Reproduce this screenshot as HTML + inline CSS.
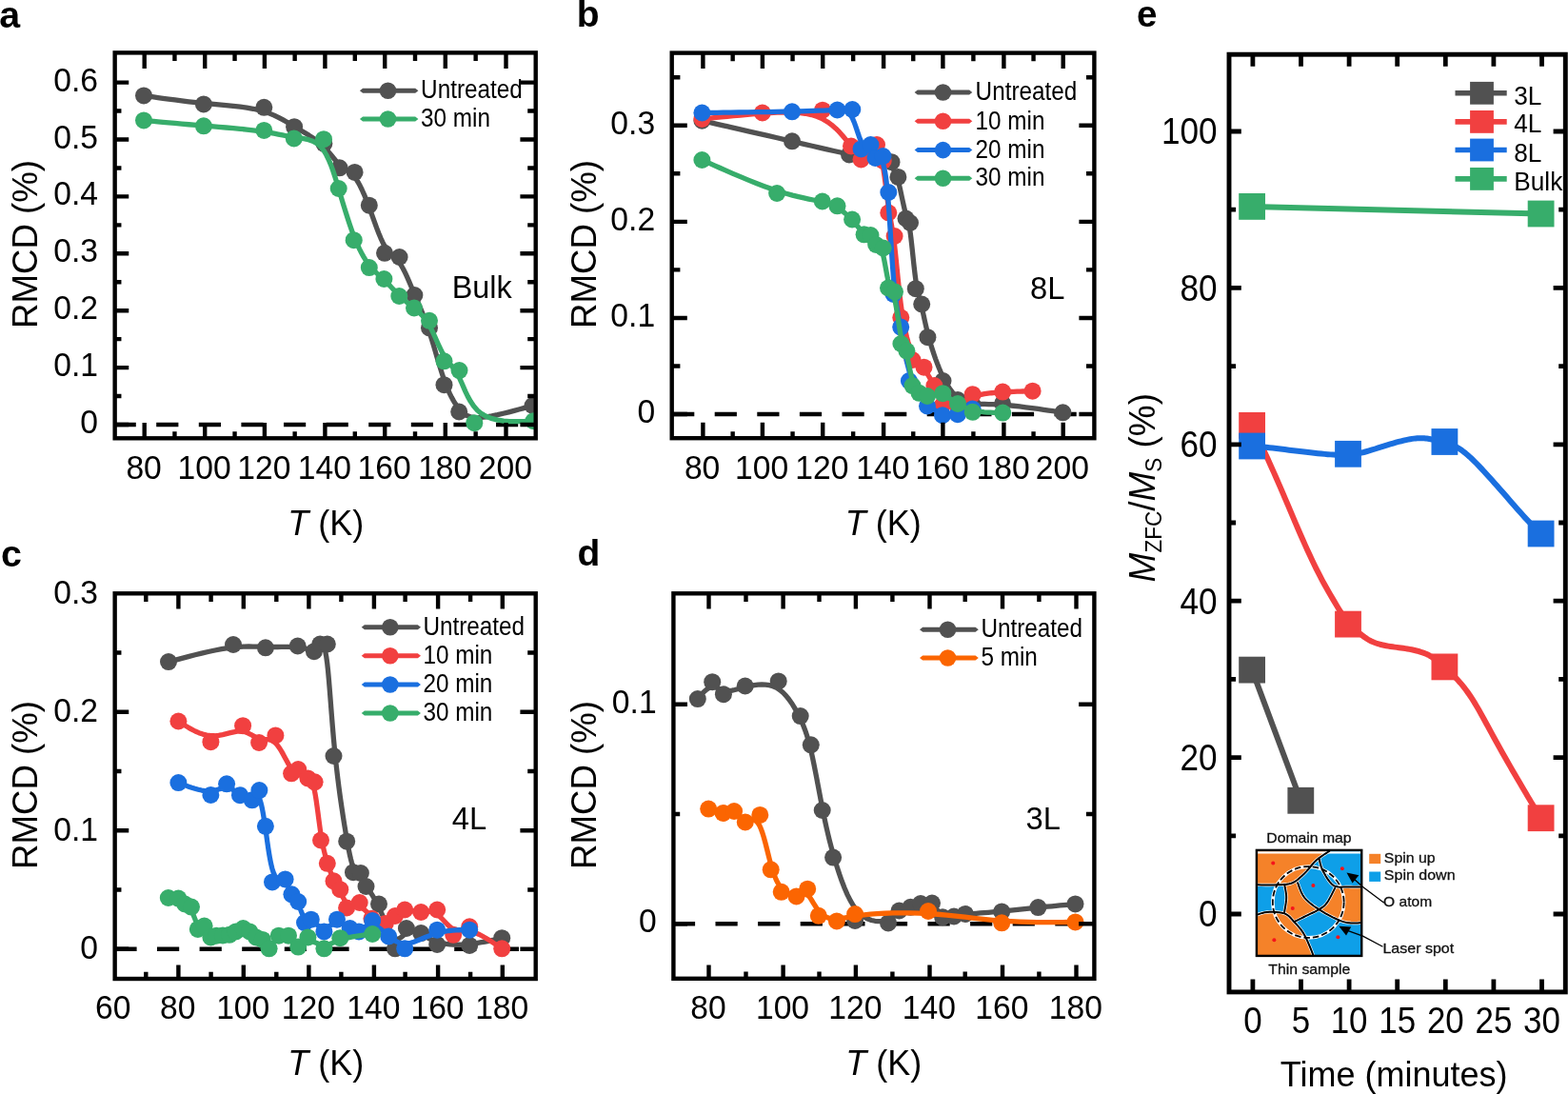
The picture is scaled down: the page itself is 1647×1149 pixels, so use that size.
<!DOCTYPE html>
<html lang="en">
<head>
<meta charset="utf-8">
<title>RMCD versus temperature</title>
<style>
html,body{margin:0;padding:0;background:#fff;}
body{width:1647px;height:1149px;overflow:hidden;}
svg{display:block;}
text{white-space:pre;}
</style>
</head>
<body>
<svg width="1647" height="1149" viewBox="0 0 1647 1149" role="img" aria-label="RMCD versus temperature for bulk, 8L, 4L and 3L samples, and MZFC/MS versus time" font-family='"Liberation Sans", Arial, Helvetica, sans-serif' fill="#000">
<g id="panel-a">
<path d="M119.6 446 H562.7" stroke="#000" stroke-width="4.4" stroke-dasharray="23.2 21.4" fill="none"/>
<clipPath id="cp1"><rect x="120.65" y="55.4" width="442.05" height="404.9"/></clipPath>
<g clip-path="url(#cp1)">
<path d="M151 100.4 L151.02 100.4 L151.16 100.42 L151.55 100.48 L152.31 100.59 L153.56 100.77 L155.42 101.03 L158.02 101.4 L161.48 101.9 L165.89 102.53 L171.15 103.27 L177.15 104.09 L183.77 104.97 L190.89 105.88 L198.37 106.78 L206.11 107.65 L213.98 108.47 L221.87 109.21 L229.7 109.9 L237.42 110.6 L244.95 111.34 L252.24 112.17 L259.23 113.13 L265.85 114.27 L272.03 115.63 L277.75 117.25 L283.03 119.09 L287.93 121.12 L292.53 123.3 L296.88 125.59 L301.03 127.95 L305.06 130.34 L309.02 132.73 L312.95 135.09 L316.85 137.42 L320.68 139.76 L324.43 142.11 L328.04 144.5 L331.51 146.95 L334.8 149.48 L337.88 152.12 L340.74 154.86 L343.39 157.68 L345.86 160.5 L348.18 163.28 L350.38 165.96 L352.5 168.48 L354.55 170.78 L356.57 172.82 L358.58 174.55 L360.58 176.06 L362.58 177.44 L364.58 178.79 L366.57 180.22 L368.54 181.82 L370.51 183.69 L372.47 185.93 L374.41 188.63 L376.35 191.76 L378.28 195.31 L380.2 199.25 L382.13 203.54 L384.07 208.15 L386.01 213.07 L387.97 218.25 L389.94 223.66 L391.92 229.18 L393.91 234.71 L395.91 240.11 L397.91 245.28 L399.91 250.09 L401.91 254.42 L403.9 258.15 L405.88 261.21 L407.86 263.72 L409.83 265.82 L411.79 267.69 L413.75 269.48 L415.71 271.35 L417.67 273.46 L419.63 275.97 L421.6 279 L423.56 282.5 L425.53 286.41 L427.5 290.63 L429.47 295.09 L431.44 299.7 L433.4 304.39 L435.37 309.07 L437.33 313.68 L439.29 318.27 L441.24 322.9 L443.19 327.61 L445.14 332.48 L447.09 337.57 L449.04 342.93 L450.98 348.63 L452.93 354.7 L454.87 361.05 L456.81 367.58 L458.75 374.17 L460.69 380.72 L462.64 387.1 L464.58 393.22 L466.53 398.95 L468.48 404.21 L470.44 409.01 L472.4 413.37 L474.36 417.32 L476.33 420.89 L478.3 424.09 L480.28 426.96 L482.27 429.53 L484.27 431.82 L486.37 433.8 L488.65 435.47 L491.2 436.81 L494.1 437.79 L497.45 438.4 L501.32 438.61 L505.82 438.42 L510.97 437.81 L516.61 436.86 L522.55 435.66 L528.56 434.28 L534.46 432.83 L540.01 431.37 L545.03 430.01 L549.3 428.83 L552.67 427.9 L555.2 427.2 L557.01 426.69 L558.23 426.35 L558.96 426.15 L559.34 426.04 L559.48 426.01 L559.5 426" fill="none" stroke="#515151" stroke-width="5.3" stroke-linejoin="round" stroke-linecap="round"/>
<g fill="#515151"><circle cx="151" cy="100.4" r="9"/><circle cx="213.9" cy="109.4" r="9"/><circle cx="277.3" cy="112.8" r="9"/><circle cx="309.1" cy="133.2" r="9"/><circle cx="340.4" cy="150.8" r="9"/><circle cx="356.6" cy="176.3" r="9"/><circle cx="372.6" cy="180.9" r="9"/><circle cx="387.8" cy="215.7" r="9"/><circle cx="404" cy="265.8" r="9"/><circle cx="419.6" cy="270" r="9"/><circle cx="435.4" cy="310" r="9"/><circle cx="451" cy="344.4" r="9"/><circle cx="466.5" cy="404.2" r="9"/><circle cx="482.2" cy="432.5" r="9"/><circle cx="559.5" cy="426" r="9"/></g>
<path d="M151 126.4 L151.02 126.4 L151.16 126.42 L151.55 126.45 L152.31 126.52 L153.56 126.64 L155.42 126.81 L158.02 127.06 L161.48 127.38 L165.89 127.8 L171.15 128.29 L177.15 128.84 L183.77 129.45 L190.89 130.09 L198.37 130.75 L206.11 131.42 L213.98 132.08 L221.87 132.73 L229.7 133.37 L237.41 134.01 L244.95 134.65 L252.23 135.32 L259.21 136.02 L265.81 136.76 L271.98 137.55 L277.68 138.4 L282.93 139.28 L287.81 140.18 L292.38 141.07 L296.69 141.93 L300.82 142.74 L304.82 143.48 L308.75 144.12 L312.66 144.66 L316.54 145.19 L320.35 145.83 L324.07 146.7 L327.67 147.91 L331.11 149.57 L334.37 151.79 L337.42 154.7 L340.23 158.37 L342.84 162.74 L345.26 167.72 L347.53 173.21 L349.69 179.12 L351.76 185.35 L353.77 191.81 L355.75 198.4 L357.73 205.03 L359.72 211.65 L361.71 218.2 L363.71 224.62 L365.71 230.87 L367.71 236.88 L369.71 242.6 L371.72 247.98 L373.72 252.98 L375.73 257.6 L377.74 261.86 L379.74 265.77 L381.74 269.35 L383.74 272.61 L385.73 275.58 L387.72 278.27 L389.69 280.69 L391.67 282.9 L393.63 284.92 L395.6 286.82 L397.56 288.64 L399.52 290.41 L401.48 292.19 L403.45 294.02 L405.42 295.93 L407.4 297.91 L409.37 299.95 L411.35 302.01 L413.33 304.08 L415.31 306.13 L417.29 308.14 L419.27 310.08 L421.24 311.95 L423.21 313.74 L425.18 315.47 L427.15 317.15 L429.12 318.8 L431.1 320.42 L433.07 322.03 L435.05 323.63 L437.03 325.26 L439.02 326.96 L441.01 328.78 L443 330.78 L444.98 333.01 L446.97 335.53 L448.94 338.4 L450.92 341.67 L452.88 345.36 L454.84 349.39 L456.8 353.64 L458.75 357.98 L460.7 362.29 L462.66 366.45 L464.62 370.35 L466.58 373.85 L468.56 376.89 L470.53 379.57 L472.52 382.04 L474.51 384.46 L476.5 386.98 L478.49 389.75 L480.48 392.92 L482.47 396.65 L484.47 401.03 L486.56 405.91 L488.82 411.1 L491.36 416.4 L494.26 421.61 L497.6 426.53 L501.49 430.95 L506.02 434.68 L511.21 437.58 L516.92 439.69 L522.93 441.14 L529.02 442.05 L534.99 442.53 L540.63 442.69 L545.72 442.65 L550.05 442.53 L553.47 442.42 L556.03 442.34 L557.87 442.28 L559.11 442.24 L559.85 442.22 L560.24 442.21 L560.38 442.2 L560.4 442.2" fill="none" stroke="#37AD6B" stroke-width="5.3" stroke-linejoin="round" stroke-linecap="round"/>
<g fill="#37AD6B"><circle cx="151" cy="126.4" r="9"/><circle cx="213.9" cy="132.3" r="9"/><circle cx="277.3" cy="136.9" r="9"/><circle cx="308.8" cy="145.4" r="9"/><circle cx="340" cy="146.2" r="9"/><circle cx="355.7" cy="198" r="9"/><circle cx="371.7" cy="252.2" r="9"/><circle cx="387.8" cy="281.1" r="9"/><circle cx="403.4" cy="293" r="9"/><circle cx="419.3" cy="311" r="9"/><circle cx="435" cy="323.5" r="9"/><circle cx="451" cy="336.8" r="9"/><circle cx="466.5" cy="379.3" r="9"/><circle cx="482.5" cy="389.1" r="9"/><circle cx="498.3" cy="444.2" r="9"/><circle cx="560.4" cy="442.2" r="9"/></g>
</g>
<rect x="120.65" y="55.4" width="442.05" height="404.9" fill="none" stroke="#000" stroke-width="4.4"/>
<path d="M151.7 55.4 v16.5 M151.7 460.3 v-16.4 M215.2 55.4 v16.5 M215.2 460.3 v-16.4 M277.9 55.4 v16.5 M277.9 460.3 v-16.4 M341.4 55.4 v16.5 M341.4 460.3 v-16.4 M404.2 55.4 v16.5 M404.2 460.3 v-16.4 M467.8 55.4 v16.5 M467.8 460.3 v-16.4 M531.5 55.4 v16.5 M531.5 460.3 v-16.4 M183.45 55.4 v8.7 M183.45 460.3 v-7 M246.55 55.4 v8.7 M246.55 460.3 v-7 M309.65 55.4 v8.7 M309.65 460.3 v-7 M372.8 55.4 v8.7 M372.8 460.3 v-7 M436 55.4 v8.7 M436 460.3 v-7 M499.65 55.4 v8.7 M499.65 460.3 v-7 M120.65 446 h14.6 M562.7 446 h-16.3 M120.65 386.1 h14.6 M562.7 386.1 h-16.3 M120.65 326.2 h14.6 M562.7 326.2 h-16.3 M120.65 266.3 h14.6 M562.7 266.3 h-16.3 M120.65 206.4 h14.6 M562.7 206.4 h-16.3 M120.65 146.5 h14.6 M562.7 146.5 h-16.3 M120.65 86.6 h14.6 M562.7 86.6 h-16.3 M120.65 416.05 h6.8 M562.7 416.05 h-8.5 M120.65 356.15 h6.8 M562.7 356.15 h-8.5 M120.65 296.25 h6.8 M562.7 296.25 h-8.5 M120.65 236.35 h6.8 M562.7 236.35 h-8.5 M120.65 176.45 h6.8 M562.7 176.45 h-8.5 M120.65 116.55 h6.8 M562.7 116.55 h-8.5" fill="none" stroke="#000" stroke-width="4.4"/>
<text transform="translate(151.1 502.6) scale(0.94 1)" font-size="35.8" text-anchor="middle">80</text>
<text transform="translate(214.6 502.6) scale(0.94 1)" font-size="35.8" text-anchor="middle">100</text>
<text transform="translate(277.3 502.6) scale(0.94 1)" font-size="35.8" text-anchor="middle">120</text>
<text transform="translate(340.8 502.6) scale(0.94 1)" font-size="35.8" text-anchor="middle">140</text>
<text transform="translate(403.6 502.6) scale(0.94 1)" font-size="35.8" text-anchor="middle">160</text>
<text transform="translate(467.2 502.6) scale(0.94 1)" font-size="35.8" text-anchor="middle">180</text>
<text transform="translate(530.9 502.6) scale(0.94 1)" font-size="35.8" text-anchor="middle">200</text>
<text transform="translate(103 455) scale(0.94 1)" font-size="35.8" text-anchor="end">0</text>
<text transform="translate(103 395.1) scale(0.94 1)" font-size="35.8" text-anchor="end">0.1</text>
<text transform="translate(103 335.2) scale(0.94 1)" font-size="35.8" text-anchor="end">0.2</text>
<text transform="translate(103 275.3) scale(0.94 1)" font-size="35.8" text-anchor="end">0.3</text>
<text transform="translate(103 215.4) scale(0.94 1)" font-size="35.8" text-anchor="end">0.4</text>
<text transform="translate(103 155.5) scale(0.94 1)" font-size="35.8" text-anchor="end">0.5</text>
<text transform="translate(103 95.6) scale(0.94 1)" font-size="35.8" text-anchor="end">0.6</text>
<text transform="translate(342.2 561.7) scale(0.962 1)" font-size="37.4" text-anchor="middle"><tspan font-style="italic">T</tspan> (K)</text>
<text transform="translate(39.4 256.5) rotate(-90) scale(0.97 1)" font-size="37.8" text-anchor="middle">RMCD (%)</text>
<path d="M377.9 95.3 L381.1 92.8 H436.2 L439.4 95.3 L436.2 97.8 H381.1 Z" fill="#515151"/>
<circle cx="407.5" cy="95.3" r="8.8" fill="#515151"/>
<text transform="translate(442.1 103.2) scale(0.89 1)" font-size="27.3" text-anchor="start">Untreated</text>
<path d="M377.9 125 L381.1 122.5 H436.2 L439.4 125 L436.2 127.5 H381.1 Z" fill="#37AD6B"/>
<circle cx="407.5" cy="125" r="8.8" fill="#37AD6B"/>
<text transform="translate(442.1 132.9) scale(0.89 1)" font-size="27.3" text-anchor="start">30 min</text>
<text x="474.7" y="312.6" font-size="32.4" text-anchor="start">Bulk</text>
<text x="-0.8" y="28.8" font-size="39.3" text-anchor="start" font-weight="bold">a</text>
</g>
<g id="panel-b">
<path d="M706.1 435 H1149.4" stroke="#000" stroke-width="4.4" stroke-dasharray="23.2 21.4" fill="none"/>
<clipPath id="cp2"><rect x="705.7" y="55.6" width="443.7" height="404.6"/></clipPath>
<g clip-path="url(#cp2)">
<path d="M737.4 126.7 L737.43 126.71 L737.65 126.76 L738.23 126.89 L739.37 127.15 L741.25 127.58 L744.05 128.22 L747.96 129.11 L753.17 130.3 L759.78 131.81 L767.61 133.6 L776.42 135.61 L785.95 137.8 L795.95 140.09 L806.16 142.44 L816.34 144.78 L826.23 147.07 L835.63 149.25 L844.53 151.31 L852.96 153.27 L860.96 155.11 L868.57 156.85 L875.82 158.47 L882.76 160 L889.42 161.42 L895.82 162.74 L901.94 163.99 L907.73 165.19 L913.14 166.38 L918.15 167.58 L922.69 168.82 L926.73 170.13 L930.23 171.53 L933.16 173.06 L935.58 174.76 L937.57 176.66 L939.19 178.8 L940.53 181.22 L941.66 183.96 L942.66 187.06 L943.6 190.55 L944.55 194.45 L945.5 198.66 L946.45 203.04 L947.4 207.47 L948.33 211.8 L949.22 215.92 L950.09 219.69 L950.9 222.98 L951.66 225.72 L952.38 228.04 L953.05 230.17 L953.7 232.28 L954.33 234.6 L954.96 237.32 L955.58 240.65 L956.22 244.78 L956.87 249.86 L957.54 255.71 L958.23 262.12 L958.94 268.85 L959.66 275.67 L960.4 282.35 L961.14 288.66 L961.9 294.38 L962.67 299.34 L963.44 303.6 L964.22 307.32 L965.01 310.63 L965.8 313.67 L966.59 316.58 L967.38 319.5 L968.17 322.57 L968.96 325.9 L969.76 329.5 L970.6 333.36 L971.5 337.47 L972.48 341.8 L973.55 346.36 L974.73 351.12 L976.05 356.07 L977.52 361.18 L979.12 366.39 L980.84 371.64 L982.64 376.84 L984.53 381.93 L986.46 386.83 L988.42 391.46 L990.4 395.77 L992.37 399.68 L994.33 403.21 L996.29 406.37 L998.24 409.2 L1000.19 411.7 L1002.13 413.91 L1004.07 415.84 L1006.02 417.52 L1007.97 418.96 L1009.95 420.19 L1011.99 421.22 L1014.13 422.06 L1016.4 422.75 L1018.82 423.28 L1021.43 423.69 L1024.25 423.98 L1027.32 424.18 L1030.68 424.32 L1034.34 424.43 L1038.34 424.54 L1042.72 424.69 L1047.5 424.9 L1052.72 425.21 L1058.4 425.65 L1064.54 426.24 L1071 426.96 L1077.58 427.77 L1084.09 428.62 L1090.37 429.48 L1096.21 430.32 L1101.43 431.08 L1105.85 431.73 L1109.33 432.25 L1111.95 432.64 L1113.82 432.92 L1115.08 433.1 L1115.84 433.22 L1116.24 433.28 L1116.38 433.3 L1116.4 433.3" fill="none" stroke="#515151" stroke-width="5.3" stroke-linejoin="round" stroke-linecap="round"/>
<g fill="#515151"><circle cx="737.4" cy="126.7" r="9"/><circle cx="832" cy="148.3" r="9"/><circle cx="892" cy="162.5" r="9"/><circle cx="936.5" cy="170.2" r="9"/><circle cx="943.4" cy="185.9" r="9"/><circle cx="951.5" cy="229.5" r="9"/><circle cx="956" cy="234" r="9"/><circle cx="961.8" cy="303.2" r="9"/><circle cx="968.2" cy="319.5" r="9"/><circle cx="974.4" cy="354.2" r="9"/><circle cx="990.5" cy="400.1" r="9"/><circle cx="1006" cy="420" r="9"/><circle cx="1021.6" cy="425" r="9"/><circle cx="1053.1" cy="423.9" r="9"/><circle cx="1116.4" cy="433.3" r="9"/></g>
<path d="M737.4 125 L737.42 125 L737.57 124.98 L737.96 124.94 L738.72 124.86 L739.98 124.74 L741.86 124.54 L744.48 124.27 L747.97 123.92 L752.4 123.46 L757.71 122.93 L763.75 122.33 L770.42 121.69 L777.57 121.03 L785.1 120.37 L792.87 119.72 L800.77 119.12 L808.67 118.58 L816.5 118.17 L824.2 117.96 L831.7 118.02 L838.95 118.43 L845.87 119.26 L852.39 120.58 L858.47 122.47 L864.04 124.95 L869.11 127.94 L873.73 131.32 L877.9 134.95 L881.66 138.71 L885.04 142.48 L888.06 146.13 L890.75 149.53 L893.14 152.58 L895.27 155.25 L897.2 157.52 L898.97 159.39 L900.64 160.84 L902.25 161.86 L903.85 162.45 L905.5 162.58 L907.23 162.28 L909.02 161.64 L910.85 160.77 L912.67 159.81 L914.47 158.88 L916.2 158.08 L917.85 157.56 L919.37 157.42 L920.74 157.77 L921.98 158.63 L923.1 160.03 L924.12 161.96 L925.06 164.44 L925.92 167.47 L926.74 171.07 L927.52 175.25 L928.28 179.99 L929.02 185.18 L929.76 190.7 L930.49 196.41 L931.22 202.17 L931.95 207.86 L932.68 213.35 L933.42 218.5 L934.17 223.23 L934.93 227.67 L935.69 232 L936.47 236.4 L937.26 241.03 L938.05 246.09 L938.86 251.74 L939.67 258.17 L940.48 265.49 L941.32 273.56 L942.18 282.18 L943.07 291.17 L944.01 300.31 L945.01 309.4 L946.08 318.25 L947.22 326.67 L948.44 334.47 L949.74 341.65 L951.1 348.2 L952.51 354.13 L953.97 359.45 L955.45 364.18 L956.95 368.32 L958.47 371.87 L959.98 374.86 L961.48 377.37 L962.98 379.49 L964.47 381.33 L965.95 382.97 L967.42 384.5 L968.88 386.03 L970.32 387.65 L971.74 389.43 L973.14 391.37 L974.53 393.46 L975.89 395.65 L977.22 397.95 L978.53 400.32 L979.81 402.73 L981.07 405.18 L982.29 407.64 L983.5 410.06 L984.72 412.43 L985.95 414.7 L987.22 416.83 L988.55 418.8 L989.95 420.57 L991.43 422.1 L993.02 423.36 L994.7 424.36 L996.46 425.09 L998.29 425.56 L1000.17 425.77 L1002.09 425.72 L1004.04 425.42 L1006 424.87 L1007.97 424.08 L1009.97 423.09 L1012.03 421.96 L1014.18 420.74 L1016.46 419.48 L1018.89 418.24 L1021.5 417.05 L1024.33 415.98 L1027.4 415.07 L1030.69 414.31 L1034.15 413.68 L1037.78 413.16 L1041.52 412.74 L1045.36 412.4 L1049.26 412.12 L1053.18 411.88 L1057.1 411.68 L1060.96 411.5 L1064.69 411.34 L1068.24 411.2 L1071.55 411.09 L1074.54 410.99 L1077.17 410.91 L1079.37 410.85 L1081.09 410.8 L1082.39 410.76 L1083.32 410.74 L1083.95 410.72 L1084.32 410.71 L1084.52 410.7 L1084.59 410.7 L1084.6 410.7" fill="none" stroke="#F14040" stroke-width="5.3" stroke-linejoin="round" stroke-linecap="round"/>
<g fill="#F14040"><circle cx="737.4" cy="125" r="9"/><circle cx="800.8" cy="118.5" r="9"/><circle cx="864" cy="115.7" r="9"/><circle cx="894" cy="153.5" r="9"/><circle cx="904.5" cy="167.5" r="9"/><circle cx="921" cy="152" r="9"/><circle cx="927.7" cy="169" r="9"/><circle cx="933.3" cy="223.5" r="9"/><circle cx="939.6" cy="248" r="9"/><circle cx="946.3" cy="333.5" r="9"/><circle cx="958.5" cy="378" r="9"/><circle cx="970.5" cy="385.7" r="9"/><circle cx="981.4" cy="405.1" r="9"/><circle cx="990.3" cy="425" r="9"/><circle cx="1006" cy="427.5" r="9"/><circle cx="1021.7" cy="414.2" r="9"/><circle cx="1053.2" cy="411.6" r="9"/><circle cx="1084.6" cy="410.7" r="9"/></g>
<path d="M737.4 118.5 L737.43 118.5 L737.65 118.5 L738.23 118.49 L739.37 118.47 L741.25 118.45 L744.05 118.42 L747.96 118.37 L753.17 118.3 L759.77 118.22 L767.58 118.11 L776.31 118 L785.69 117.86 L795.44 117.72 L805.28 117.55 L814.95 117.38 L824.15 117.2 L832.67 117.01 L840.48 116.81 L847.62 116.61 L854.11 116.41 L859.98 116.22 L865.27 116.04 L870.01 115.87 L874.22 115.72 L877.93 115.6 L881.2 115.58 L884.08 115.73 L886.6 116.15 L888.83 116.9 L890.8 118.07 L892.58 119.74 L894.2 121.98 L895.71 124.84 L897.14 128.18 L898.49 131.83 L899.78 135.62 L901.02 139.38 L902.24 142.94 L903.44 146.12 L904.63 148.77 L905.84 150.74 L907.04 152.13 L908.24 153.05 L909.41 153.63 L910.55 154 L911.65 154.27 L912.69 154.59 L913.67 155.07 L914.57 155.8 L915.41 156.75 L916.2 157.86 L916.96 159.05 L917.7 160.26 L918.45 161.42 L919.21 162.47 L920 163.33 L920.83 163.98 L921.71 164.48 L922.6 164.95 L923.52 165.5 L924.44 166.24 L925.35 167.27 L926.26 168.71 L927.13 170.67 L927.98 173.24 L928.79 176.49 L929.58 180.48 L930.34 185.27 L931.08 190.91 L931.8 197.46 L932.51 204.97 L933.2 213.5 L933.88 223.06 L934.56 233.41 L935.25 244.3 L935.94 255.43 L936.65 266.54 L937.37 277.34 L938.13 287.56 L938.92 296.93 L939.74 305.25 L940.6 312.62 L941.5 319.22 L942.42 325.25 L943.38 330.88 L944.35 336.29 L945.35 341.69 L946.37 347.23 L947.4 353.07 L948.47 359.15 L949.59 365.37 L950.79 371.63 L952.07 377.82 L953.46 383.85 L954.97 389.62 L956.63 395.02 L958.45 399.97 L960.4 404.48 L962.46 408.57 L964.6 412.28 L966.8 415.62 L969.03 418.62 L971.27 421.3 L973.48 423.7 L975.65 425.83 L977.78 427.72 L979.87 429.36 L981.93 430.78 L983.97 431.98 L985.98 432.98 L987.99 433.79 L989.98 434.42 L991.98 434.88 L993.97 435.19 L995.96 435.35 L997.95 435.38 L999.93 435.29 L1001.92 435.09 L1003.9 434.8 L1005.88 434.42 L1007.86 433.96 L1009.8 433.46 L1011.68 432.92 L1013.47 432.37 L1015.13 431.83 L1016.64 431.31 L1017.96 430.85 L1019.07 430.45 L1019.94 430.14 L1020.59 429.9 L1021.06 429.73 L1021.37 429.62 L1021.56 429.55 L1021.66 429.51 L1021.69 429.5 L1021.7 429.5" fill="none" stroke="#1A6FDF" stroke-width="5.3" stroke-linejoin="round" stroke-linecap="round"/>
<g fill="#1A6FDF"><circle cx="737.4" cy="118.5" r="9"/><circle cx="832" cy="117.3" r="9"/><circle cx="879.5" cy="115.5" r="9"/><circle cx="895.3" cy="115" r="9"/><circle cx="904.5" cy="156.4" r="9"/><circle cx="914.5" cy="152" r="9"/><circle cx="919.5" cy="166" r="9"/><circle cx="927.5" cy="164" r="9"/><circle cx="933.3" cy="202" r="9"/><circle cx="938.5" cy="309" r="9"/><circle cx="946.2" cy="343.6" r="9"/><circle cx="954.9" cy="400" r="9"/><circle cx="974" cy="426.5" r="9"/><circle cx="990" cy="436.2" r="9"/><circle cx="1005.9" cy="435.2" r="9"/><circle cx="1021.7" cy="429.5" r="9"/></g>
<path d="M737.4 168 L737.43 168.01 L737.6 168.09 L738.09 168.31 L739.04 168.73 L740.6 169.42 L742.93 170.46 L746.19 171.91 L750.52 173.83 L756.01 176.27 L762.53 179.14 L769.84 182.32 L777.74 185.68 L786.02 189.1 L794.45 192.48 L802.83 195.68 L810.93 198.58 L818.59 201.1 L825.76 203.25 L832.44 205.08 L838.64 206.62 L844.34 207.93 L849.54 209.05 L854.25 210.02 L858.47 210.88 L862.19 211.69 L865.47 212.46 L868.38 213.23 L870.98 214.02 L873.33 214.85 L875.48 215.75 L877.52 216.75 L879.48 217.87 L881.44 219.13 L883.38 220.52 L885.32 222.02 L887.23 223.63 L889.12 225.32 L890.98 227.09 L892.8 228.91 L894.58 230.77 L896.31 232.65 L897.99 234.52 L899.61 236.36 L901.17 238.12 L902.66 239.77 L904.07 241.29 L905.41 242.64 L906.67 243.78 L907.84 244.7 L908.93 245.44 L909.95 246.03 L910.91 246.53 L911.81 246.98 L912.68 247.44 L913.5 247.95 L914.3 248.55 L915.08 249.29 L915.85 250.14 L916.6 251.07 L917.36 252.06 L918.13 253.07 L918.9 254.07 L919.69 255.03 L920.5 255.92 L921.34 256.72 L922.2 257.52 L923.07 258.39 L923.94 259.42 L924.81 260.7 L925.67 262.32 L926.52 264.36 L927.33 266.92 L928.12 270.04 L928.87 273.61 L929.61 277.48 L930.34 281.51 L931.06 285.54 L931.79 289.43 L932.53 293.02 L933.28 296.17 L934.06 298.77 L934.87 300.96 L935.69 302.9 L936.52 304.76 L937.37 306.72 L938.21 308.95 L939.06 311.63 L939.9 314.92 L940.73 318.94 L941.56 323.55 L942.37 328.58 L943.18 333.83 L943.98 339.1 L944.77 344.21 L945.56 348.97 L946.33 353.18 L947.11 356.72 L947.87 359.68 L948.63 362.2 L949.39 364.43 L950.15 366.51 L950.91 368.61 L951.66 370.86 L952.42 373.42 L953.17 376.38 L953.93 379.68 L954.7 383.21 L955.47 386.85 L956.25 390.49 L957.04 394.03 L957.84 397.33 L958.65 400.3 L959.48 402.85 L960.32 404.99 L961.17 406.78 L962.05 408.26 L962.94 409.48 L963.86 410.48 L964.79 411.33 L965.75 412.05 L966.73 412.7 L967.75 413.27 L968.82 413.76 L969.94 414.18 L971.14 414.52 L972.43 414.77 L973.81 414.93 L975.3 415 L976.91 414.98 L978.62 414.91 L980.42 414.83 L982.3 414.76 L984.23 414.75 L986.2 414.84 L988.2 415.07 L990.2 415.47 L992.2 416.07 L994.18 416.85 L996.16 417.79 L998.14 418.84 L1000.11 419.99 L1002.07 421.19 L1004.04 422.43 L1006 423.67 L1007.97 424.87 L1009.97 426.04 L1012.03 427.15 L1014.18 428.19 L1016.46 429.16 L1018.89 430.03 L1021.51 430.81 L1024.35 431.47 L1027.42 432.01 L1030.64 432.44 L1033.92 432.77 L1037.17 433.02 L1040.3 433.2 L1043.22 433.32 L1045.83 433.41 L1048.03 433.47 L1049.77 433.51 L1051.08 433.54 L1052.01 433.57 L1052.64 433.58 L1053.02 433.59 L1053.22 433.6 L1053.29 433.6 L1053.3 433.6" fill="none" stroke="#37AD6B" stroke-width="5.3" stroke-linejoin="round" stroke-linecap="round"/>
<g fill="#37AD6B"><circle cx="737.4" cy="168" r="9"/><circle cx="816.1" cy="203" r="9"/><circle cx="863.8" cy="211.5" r="9"/><circle cx="879.5" cy="216.3" r="9"/><circle cx="895.1" cy="230.5" r="9"/><circle cx="907.6" cy="246.3" r="9"/><circle cx="914.5" cy="247" r="9"/><circle cx="920.2" cy="257" r="9"/><circle cx="927.7" cy="260.5" r="9"/><circle cx="933" cy="302.5" r="9"/><circle cx="940" cy="306.5" r="9"/><circle cx="946.4" cy="361" r="9"/><circle cx="952.4" cy="368.6" r="9"/><circle cx="958.5" cy="405.1" r="9"/><circle cx="965.5" cy="412.8" r="9"/><circle cx="974" cy="416" r="9"/><circle cx="990.3" cy="413.2" r="9"/><circle cx="1006" cy="424" r="9"/><circle cx="1021.7" cy="432.8" r="9"/><circle cx="1053.3" cy="433.6" r="9"/></g>
</g>
<rect x="705.7" y="55.6" width="443.7" height="404.6" fill="none" stroke="#000" stroke-width="4.4"/>
<path d="M738.4 55.6 v16.5 M738.4 460.2 v-16.4 M800.9 55.6 v16.5 M800.9 460.2 v-16.4 M864.2 55.6 v16.5 M864.2 460.2 v-16.4 M928.1 55.6 v16.5 M928.1 460.2 v-16.4 M990.4 55.6 v16.5 M990.4 460.2 v-16.4 M1054.4 55.6 v16.5 M1054.4 460.2 v-16.4 M1116.7 55.6 v16.5 M1116.7 460.2 v-16.4 M769.65 55.6 v8.7 M769.65 460.2 v-7 M832.55 55.6 v8.7 M832.55 460.2 v-7 M896.15 55.6 v8.7 M896.15 460.2 v-7 M959.25 55.6 v8.7 M959.25 460.2 v-7 M1022.4 55.6 v8.7 M1022.4 460.2 v-7 M1085.55 55.6 v8.7 M1085.55 460.2 v-7 M705.7 435 h16.1 M1149.4 435 h-16 M705.7 333.93 h16.1 M1149.4 333.93 h-16 M705.7 232.86 h16.1 M1149.4 232.86 h-16 M705.7 131.79 h16.1 M1149.4 131.79 h-16 M705.7 384.46 h8.7 M1149.4 384.46 h-8.4 M705.7 283.39 h8.7 M1149.4 283.39 h-8.4 M705.7 182.32 h8.7 M1149.4 182.32 h-8.4 M705.7 81.25 h8.7 M1149.4 81.25 h-8.4" fill="none" stroke="#000" stroke-width="4.4"/>
<text transform="translate(737.6 502.6) scale(0.94 1)" font-size="35.8" text-anchor="middle">80</text>
<text transform="translate(800.1 502.6) scale(0.94 1)" font-size="35.8" text-anchor="middle">100</text>
<text transform="translate(863.4 502.6) scale(0.94 1)" font-size="35.8" text-anchor="middle">120</text>
<text transform="translate(927.3 502.6) scale(0.94 1)" font-size="35.8" text-anchor="middle">140</text>
<text transform="translate(989.6 502.6) scale(0.94 1)" font-size="35.8" text-anchor="middle">160</text>
<text transform="translate(1053.6 502.6) scale(0.94 1)" font-size="35.8" text-anchor="middle">180</text>
<text transform="translate(1115.9 502.6) scale(0.94 1)" font-size="35.8" text-anchor="middle">200</text>
<text transform="translate(688.1 444) scale(0.94 1)" font-size="35.8" text-anchor="end">0</text>
<text transform="translate(688.1 342.93) scale(0.94 1)" font-size="35.8" text-anchor="end">0.1</text>
<text transform="translate(688.1 241.86) scale(0.94 1)" font-size="35.8" text-anchor="end">0.2</text>
<text transform="translate(688.1 140.79) scale(0.94 1)" font-size="35.8" text-anchor="end">0.3</text>
<text transform="translate(927.7 561.7) scale(0.962 1)" font-size="37.4" text-anchor="middle"><tspan font-style="italic">T</tspan> (K)</text>
<text transform="translate(626 256.5) rotate(-90) scale(0.97 1)" font-size="37.8" text-anchor="middle">RMCD (%)</text>
<path d="M960.6 97 L963.8 94.5 H1018.1 L1021.3 97 L1018.1 99.5 H963.8 Z" fill="#515151"/>
<circle cx="990.5" cy="97" r="8.8" fill="#515151"/>
<text transform="translate(1024.6 104.8) scale(0.89 1)" font-size="27.3" text-anchor="start">Untreated</text>
<path d="M960.6 127.2 L963.8 124.7 H1018.1 L1021.3 127.2 L1018.1 129.7 H963.8 Z" fill="#F14040"/>
<circle cx="990.5" cy="127.2" r="8.8" fill="#F14040"/>
<text transform="translate(1024.6 135.8) scale(0.89 1)" font-size="27.3" text-anchor="start">10 min</text>
<path d="M960.6 157.6 L963.8 155.1 H1018.1 L1021.3 157.6 L1018.1 160.1 H963.8 Z" fill="#1A6FDF"/>
<circle cx="990.5" cy="157.6" r="8.8" fill="#1A6FDF"/>
<text transform="translate(1024.6 165.7) scale(0.89 1)" font-size="27.3" text-anchor="start">20 min</text>
<path d="M960.6 187.3 L963.8 184.8 H1018.1 L1021.3 187.3 L1018.1 189.8 H963.8 Z" fill="#37AD6B"/>
<circle cx="990.5" cy="187.3" r="8.8" fill="#37AD6B"/>
<text transform="translate(1024.6 195.2) scale(0.89 1)" font-size="27.3" text-anchor="start">30 min</text>
<text x="1082" y="314.3" font-size="32.7" text-anchor="start">8L</text>
<text x="605.8" y="28.3" font-size="39" text-anchor="start" font-weight="bold">b</text>
</g>
<g id="panel-c">
<path d="M120.4 996.7 H562.7" stroke="#000" stroke-width="4.4" stroke-dasharray="23.2 21.4" fill="none"/>
<clipPath id="cp3"><rect x="120.65" y="623.3" width="442.05" height="404.7"/></clipPath>
<g clip-path="url(#cp3)">
<path d="M177 695.1 L177.02 695.09 L177.18 695.05 L177.6 694.94 L178.42 694.72 L179.77 694.36 L181.78 693.83 L184.59 693.08 L188.33 692.08 L193.08 690.82 L198.69 689.36 L204.97 687.76 L211.71 686.12 L218.71 684.5 L225.78 682.98 L232.71 681.65 L239.32 680.57 L245.43 679.8 L251.08 679.32 L256.32 679.06 L261.24 678.99 L265.88 679.04 L270.33 679.17 L274.64 679.33 L278.88 679.45 L283.11 679.51 L287.3 679.51 L291.43 679.48 L295.45 679.45 L299.35 679.44 L303.08 679.46 L306.62 679.56 L309.93 679.75 L312.99 680.05 L315.8 680.42 L318.38 680.82 L320.73 681.23 L322.86 681.58 L324.79 681.85 L326.53 681.99 L328.08 681.97 L329.47 681.74 L330.71 681.35 L331.83 680.83 L332.85 680.23 L333.79 679.58 L334.69 678.93 L335.55 678.32 L336.42 677.78 L337.29 677.4 L338.19 677.35 L339.09 677.85 L340.01 679.11 L340.92 681.35 L341.84 684.78 L342.75 689.62 L343.65 696.08 L344.54 704.3 L345.43 714.06 L346.34 725.1 L347.28 737.12 L348.26 749.84 L349.31 762.98 L350.44 776.25 L351.67 789.37 L352.99 802.09 L354.4 814.32 L355.86 826 L357.35 837.08 L358.84 847.49 L360.31 857.18 L361.72 866.09 L363.05 874.17 L364.28 881.37 L365.42 887.72 L366.48 893.28 L367.48 898.1 L368.43 902.22 L369.36 905.7 L370.27 908.58 L371.18 910.92 L372.11 912.76 L373.05 914.21 L373.99 915.33 L374.93 916.21 L375.85 916.96 L376.77 917.65 L377.66 918.36 L378.52 919.2 L379.35 920.23 L380.16 921.44 L380.98 922.83 L381.82 924.37 L382.7 926.05 L383.65 927.85 L384.68 929.76 L385.82 931.75 L387.07 933.82 L388.44 936.02 L389.91 938.37 L391.49 940.93 L393.15 943.75 L394.89 946.88 L396.71 950.35 L398.58 954.22 L400.51 958.49 L402.48 963.01 L404.47 967.6 L406.47 972.07 L408.45 976.23 L410.4 979.89 L412.31 982.86 L414.15 984.95 L415.92 986.04 L417.63 986.26 L419.28 985.77 L420.91 984.78 L422.53 983.46 L424.15 982 L425.79 980.59 L427.47 979.4 L429.19 978.59 L430.97 978.15 L432.79 978.05 L434.66 978.24 L436.56 978.7 L438.5 979.37 L440.48 980.23 L442.48 981.23 L444.52 982.34 L446.61 983.52 L448.79 984.74 L451.09 985.96 L453.53 987.15 L456.15 988.27 L458.97 989.29 L462.03 990.17 L465.35 990.88 L468.9 991.43 L472.64 991.81 L476.55 992.04 L480.6 992.12 L484.74 992.04 L488.96 991.82 L493.2 991.47 L497.44 990.98 L501.61 990.39 L505.65 989.73 L509.49 989.03 L513.07 988.33 L516.31 987.64 L519.15 987.02 L521.53 986.48 L523.4 986.06 L524.81 985.74 L525.82 985.51 L526.49 985.36 L526.9 985.27 L527.11 985.22 L527.19 985.2 L527.2 985.2" fill="none" stroke="#515151" stroke-width="5.3" stroke-linejoin="round" stroke-linecap="round"/>
<g fill="#515151"><circle cx="177" cy="695.1" r="9"/><circle cx="245" cy="677" r="9"/><circle cx="278.9" cy="680.3" r="9"/><circle cx="312.7" cy="678.5" r="9"/><circle cx="329.9" cy="684.2" r="9"/><circle cx="336.2" cy="676.5" r="9"/><circle cx="343.8" cy="676.5" r="9"/><circle cx="350.5" cy="794" r="9"/><circle cx="364.2" cy="883.7" r="9"/><circle cx="371" cy="916.2" r="9"/><circle cx="378.9" cy="917" r="9"/><circle cx="384.5" cy="931" r="9"/><circle cx="398" cy="949.5" r="9"/><circle cx="415" cy="996.3" r="9"/><circle cx="426.9" cy="975" r="9"/><circle cx="442.2" cy="980.1" r="9"/><circle cx="459.2" cy="992" r="9"/><circle cx="493.2" cy="992.9" r="9"/><circle cx="527.2" cy="985.2" r="9"/></g>
<path d="M187.4 757.5 L187.41 757.51 L187.49 757.56 L187.7 757.69 L188.11 757.95 L188.78 758.38 L189.79 759.03 L191.2 759.92 L193.07 761.12 L195.45 762.62 L198.29 764.35 L201.53 766.18 L205.1 768 L208.94 769.68 L212.97 771.11 L217.13 772.17 L221.35 772.75 L225.57 772.77 L229.76 772.32 L233.88 771.56 L237.9 770.62 L241.78 769.65 L245.5 768.8 L249.02 768.2 L252.32 768 L255.36 768.3 L258.18 769.03 L260.8 770.07 L263.26 771.3 L265.59 772.6 L267.83 773.85 L270 774.95 L272.15 775.77 L274.3 776.23 L276.44 776.44 L278.59 776.53 L280.74 776.66 L282.89 776.96 L285.03 777.57 L287.17 778.65 L289.3 780.32 L291.42 782.68 L293.51 785.6 L295.55 788.91 L297.54 792.42 L299.44 795.96 L301.25 799.34 L302.94 802.39 L304.5 804.93 L305.92 806.83 L307.21 808.15 L308.4 809.01 L309.51 809.51 L310.58 809.78 L311.62 809.92 L312.66 810.05 L313.72 810.28 L314.82 810.7 L315.96 811.3 L317.12 812.03 L318.3 812.87 L319.48 813.77 L320.65 814.7 L321.79 815.62 L322.9 816.48 L323.96 817.29 L324.99 818.14 L325.97 819.14 L326.92 820.43 L327.84 822.12 L328.74 824.34 L329.61 827.21 L330.47 830.85 L331.31 835.34 L332.14 840.53 L332.97 846.26 L333.79 852.33 L334.61 858.55 L335.43 864.75 L336.24 870.75 L337.07 876.35 L337.89 881.42 L338.73 885.97 L339.57 890.06 L340.41 893.76 L341.25 897.13 L342.09 900.22 L342.94 903.1 L343.78 905.83 L344.63 908.46 L345.47 910.99 L346.31 913.42 L347.15 915.73 L347.99 917.92 L348.83 919.98 L349.67 921.91 L350.52 923.7 L351.36 925.34 L352.21 926.88 L353.05 928.34 L353.9 929.77 L354.75 931.2 L355.6 932.68 L356.45 934.25 L357.3 935.93 L358.15 937.77 L359.02 939.69 L359.91 941.64 L360.84 943.55 L361.83 945.34 L362.88 946.96 L364.01 948.32 L365.23 949.37 L366.56 950.05 L367.98 950.44 L369.47 950.62 L371.02 950.7 L372.62 950.75 L374.25 950.88 L375.9 951.17 L377.55 951.72 L379.19 952.59 L380.82 953.74 L382.44 955.1 L384.07 956.62 L385.7 958.22 L387.34 959.84 L389 961.4 L390.68 962.85 L392.39 964.13 L394.11 965.22 L395.83 966.12 L397.55 966.84 L399.24 967.36 L400.91 967.68 L402.53 967.81 L404.1 967.73 L405.61 967.46 L407.05 967.01 L408.45 966.42 L409.81 965.71 L411.14 964.91 L412.44 964.04 L413.72 963.14 L415 962.23 L416.28 961.35 L417.57 960.5 L418.88 959.7 L420.24 958.97 L421.65 958.32 L423.13 957.76 L424.68 957.32 L426.33 957 L428.08 956.82 L429.93 956.74 L431.85 956.76 L433.84 956.83 L435.88 956.94 L437.97 957.05 L440.08 957.13 L442.2 957.17 L444.32 957.14 L446.45 957.1 L448.57 957.11 L450.7 957.25 L452.82 957.57 L454.95 958.14 L457.07 959.03 L459.2 960.3 L461.33 961.99 L463.45 964.01 L465.57 966.23 L467.7 968.52 L469.82 970.77 L471.95 972.85 L474.07 974.64 L476.2 976 L478.33 976.86 L480.49 977.31 L482.72 977.47 L485.05 977.48 L487.52 977.46 L490.15 977.55 L492.97 977.87 L496.03 978.55 L499.34 979.68 L502.81 981.2 L506.34 983 L509.85 984.98 L513.22 987.02 L516.35 989.01 L519.16 990.87 L521.53 992.47 L523.4 993.73 L524.81 994.68 L525.82 995.36 L526.49 995.82 L526.9 996.1 L527.11 996.24 L527.19 996.29 L527.2 996.3" fill="none" stroke="#F14040" stroke-width="5.3" stroke-linejoin="round" stroke-linecap="round"/>
<g fill="#F14040"><circle cx="187.4" cy="757.5" r="9"/><circle cx="221.4" cy="779.2" r="9"/><circle cx="255.1" cy="762.2" r="9"/><circle cx="272.1" cy="780" r="9"/><circle cx="289.4" cy="772.4" r="9"/><circle cx="306.1" cy="812.3" r="9"/><circle cx="313.2" cy="808" r="9"/><circle cx="323.4" cy="817.4" r="9"/><circle cx="330.6" cy="821.3" r="9"/><circle cx="337" cy="882.5" r="9"/><circle cx="343.8" cy="906.8" r="9"/><circle cx="350.5" cy="925.3" r="9"/><circle cx="357.3" cy="934.2" r="9"/><circle cx="364.1" cy="953.5" r="9"/><circle cx="377.7" cy="948" r="9"/><circle cx="390.4" cy="964.8" r="9"/><circle cx="404.8" cy="969.9" r="9"/><circle cx="415" cy="962" r="9"/><circle cx="425.2" cy="955.5" r="9"/><circle cx="442.2" cy="958" r="9"/><circle cx="459.2" cy="955.5" r="9"/><circle cx="476.2" cy="981.8" r="9"/><circle cx="493.2" cy="973.3" r="9"/><circle cx="527.2" cy="996.3" r="9"/></g>
<path d="M187.4 822.1 L187.41 822.1 L187.49 822.13 L187.7 822.21 L188.11 822.37 L188.78 822.62 L189.79 823 L191.2 823.53 L193.07 824.23 L195.44 825.12 L198.25 826.14 L201.38 827.21 L204.75 828.26 L208.24 829.22 L211.77 830.02 L215.23 830.58 L218.52 830.83 L221.55 830.73 L224.35 830.35 L226.93 829.76 L229.33 829.08 L231.57 828.39 L233.68 827.79 L235.69 827.37 L237.63 827.22 L239.52 827.41 L241.38 827.91 L243.19 828.66 L244.97 829.6 L246.72 830.67 L248.44 831.81 L250.14 832.96 L251.82 834.07 L253.48 835.07 L255.11 835.96 L256.71 836.7 L258.27 837.29 L259.78 837.71 L261.23 837.93 L262.62 837.95 L263.93 837.75 L265.17 837.33 L266.33 836.8 L267.43 836.27 L268.47 835.88 L269.46 835.74 L270.41 835.98 L271.33 836.72 L272.22 838.08 L273.09 840.17 L273.95 842.95 L274.8 846.37 L275.64 850.38 L276.48 854.93 L277.31 859.97 L278.15 865.44 L279 871.28 L279.86 877.44 L280.73 883.76 L281.64 890.08 L282.6 896.25 L283.61 902.1 L284.68 907.47 L285.84 912.2 L287.08 916.13 L288.42 919.15 L289.84 921.37 L291.3 922.93 L292.79 924.01 L294.28 924.75 L295.74 925.32 L297.14 925.87 L298.47 926.55 L299.69 927.5 L300.82 928.68 L301.87 930.06 L302.86 931.57 L303.79 933.17 L304.68 934.8 L305.55 936.4 L306.4 937.93 L307.25 939.35 L308.1 940.69 L308.95 941.98 L309.8 943.28 L310.65 944.63 L311.5 946.07 L312.35 947.64 L313.2 949.4 L314.05 951.36 L314.9 953.47 L315.75 955.65 L316.6 957.82 L317.45 959.9 L318.3 961.82 L319.15 963.5 L320 964.85 L320.85 965.83 L321.72 966.5 L322.61 966.93 L323.54 967.2 L324.53 967.41 L325.58 967.62 L326.71 967.91 L327.93 968.38 L329.26 969.08 L330.68 969.94 L332.18 970.89 L333.74 971.86 L335.36 972.75 L337.02 973.48 L338.7 973.98 L340.4 974.17 L342.1 973.98 L343.8 973.5 L345.5 972.8 L347.2 971.98 L348.9 971.13 L350.6 970.36 L352.3 969.74 L354 969.37 L355.7 969.32 L357.39 969.56 L359.06 970.03 L360.71 970.69 L362.33 971.47 L363.9 972.32 L365.43 973.19 L366.9 974.02 L368.31 974.76 L369.67 975.4 L371 975.9 L372.31 976.27 L373.63 976.47 L374.98 976.49 L376.36 976.32 L377.8 975.93 L379.31 975.33 L380.89 974.58 L382.54 973.77 L384.26 972.97 L386.03 972.28 L387.86 971.77 L389.74 971.54 L391.67 971.65 L393.64 972.18 L395.65 973.08 L397.69 974.29 L399.76 975.75 L401.85 977.41 L403.96 979.19 L406.08 981.03 L408.2 982.88 L410.33 984.68 L412.49 986.36 L414.72 987.86 L417.05 989.15 L419.52 990.15 L422.15 990.81 L424.97 991.08 L428.03 990.9 L431.35 990.24 L434.9 989.17 L438.64 987.8 L442.55 986.23 L446.6 984.56 L450.74 982.89 L454.96 981.33 L459.2 979.97 L463.44 978.89 L467.61 978.08 L471.65 977.5 L475.49 977.11 L479.07 976.87 L482.31 976.75 L485.15 976.71 L487.53 976.7 L489.4 976.7 L490.81 976.7 L491.82 976.7 L492.49 976.7 L492.9 976.7 L493.11 976.7 L493.19 976.7 L493.2 976.7" fill="none" stroke="#1A6FDF" stroke-width="5.3" stroke-linejoin="round" stroke-linecap="round"/>
<g fill="#1A6FDF"><circle cx="187.4" cy="822.1" r="9"/><circle cx="221.4" cy="834.9" r="9"/><circle cx="238.1" cy="823.3" r="9"/><circle cx="252" cy="835.2" r="9"/><circle cx="264.8" cy="840.3" r="9"/><circle cx="272.4" cy="830.1" r="9"/><circle cx="278.9" cy="867.8" r="9"/><circle cx="286" cy="926.4" r="9"/><circle cx="299.6" cy="923.4" r="9"/><circle cx="306.4" cy="939.3" r="9"/><circle cx="313.2" cy="947" r="9"/><circle cx="320" cy="969.1" r="9"/><circle cx="326.8" cy="965.7" r="9"/><circle cx="340.4" cy="978.4" r="9"/><circle cx="354" cy="965.7" r="9"/><circle cx="367.6" cy="975" r="9"/><circle cx="377" cy="978.4" r="9"/><circle cx="391.2" cy="967" r="9"/><circle cx="408.2" cy="983.5" r="9"/><circle cx="425.2" cy="996.3" r="9"/><circle cx="459.2" cy="976.7" r="9"/><circle cx="493.2" cy="976.7" r="9"/></g>
<path d="M176.8 943 L176.8 943 L176.83 943 L176.89 943.01 L177.02 943.01 L177.23 943.02 L177.55 943.04 L177.98 943.07 L178.57 943.1 L179.31 943.14 L180.19 943.21 L181.17 943.3 L182.24 943.42 L183.36 943.6 L184.51 943.82 L185.65 944.12 L186.77 944.48 L187.83 944.93 L188.83 945.44 L189.8 946 L190.72 946.6 L191.62 947.22 L192.49 947.84 L193.35 948.45 L194.2 949.03 L195.05 949.58 L195.9 950.13 L196.75 950.73 L197.6 951.41 L198.45 952.23 L199.3 953.24 L200.15 954.47 L201 955.97 L201.85 957.76 L202.7 959.78 L203.55 961.92 L204.4 964.11 L205.25 966.25 L206.1 968.25 L206.95 970.01 L207.8 971.45 L208.65 972.5 L209.5 973.21 L210.35 973.67 L211.2 973.96 L212.05 974.16 L212.9 974.36 L213.75 974.62 L214.6 975.05 L215.45 975.69 L216.3 976.52 L217.14 977.47 L217.98 978.49 L218.81 979.52 L219.64 980.51 L220.45 981.4 L221.25 982.13 L222.04 982.67 L222.81 983.02 L223.58 983.22 L224.35 983.3 L225.11 983.28 L225.88 983.2 L226.65 983.08 L227.43 982.95 L228.23 982.84 L229.03 982.75 L229.85 982.68 L230.67 982.62 L231.5 982.57 L232.34 982.52 L233.19 982.47 L234.03 982.42 L234.88 982.36 L235.74 982.28 L236.59 982.19 L237.45 982.08 L238.31 981.95 L239.17 981.78 L240.03 981.59 L240.88 981.35 L241.74 981.07 L242.6 980.76 L243.45 980.42 L244.32 980.04 L245.19 979.65 L246.06 979.24 L246.95 978.82 L247.85 978.4 L248.76 977.98 L249.69 977.57 L250.62 977.18 L251.55 976.84 L252.48 976.55 L253.41 976.33 L254.34 976.18 L255.25 976.13 L256.15 976.19 L257.04 976.33 L257.91 976.57 L258.78 976.9 L259.64 977.29 L260.5 977.75 L261.35 978.27 L262.2 978.83 L263.05 979.44 L263.9 980.07 L264.75 980.73 L265.6 981.38 L266.45 982.03 L267.3 982.66 L268.15 983.26 L269 983.82 L269.85 984.32 L270.7 984.8 L271.55 985.26 L272.4 985.72 L273.25 986.21 L274.1 986.75 L274.95 987.36 L275.8 988.05 L276.65 988.84 L277.51 989.68 L278.38 990.5 L279.27 991.26 L280.19 991.9 L281.14 992.35 L282.13 992.56 L283.17 992.47 L284.25 992.04 L285.39 991.32 L286.56 990.38 L287.77 989.3 L289 988.15 L290.26 987 L291.53 985.91 L292.8 984.97 L294.08 984.22 L295.35 983.69 L296.62 983.36 L297.9 983.23 L299.18 983.3 L300.45 983.57 L301.73 984.03 L303 984.68 L304.27 985.51 L305.55 986.45 L306.82 987.45 L308.1 988.44 L309.38 989.34 L310.65 990.1 L311.92 990.65 L313.2 990.92 L314.48 990.86 L315.77 990.55 L317.08 990.07 L318.44 989.5 L319.85 988.93 L321.33 988.45 L322.88 988.14 L324.53 988.08 L326.28 988.35 L328.13 988.87 L330.05 989.56 L332.04 990.33 L334.08 991.1 L336.16 991.77 L338.27 992.25 L340.38 992.47 L342.51 992.35 L344.66 991.93 L346.88 991.26 L349.2 990.41 L351.65 989.44 L354.27 988.4 L357.09 987.35 L360.13 986.35 L363.42 985.45 L366.88 984.65 L370.41 983.94 L373.9 983.33 L377.26 982.81 L380.39 982.36 L383.18 982 L385.55 981.7 L387.41 981.47 L388.82 981.3 L389.82 981.17 L390.49 981.09 L390.9 981.04 L391.11 981.01 L391.19 981 L391.2 981" fill="none" stroke="#37AD6B" stroke-width="5.3" stroke-linejoin="round" stroke-linecap="round"/>
<g fill="#37AD6B"><circle cx="176.8" cy="943" r="9"/><circle cx="187.4" cy="943.6" r="9"/><circle cx="194.2" cy="949.5" r="9"/><circle cx="201" cy="952.6" r="9"/><circle cx="207.8" cy="975.9" r="9"/><circle cx="214.6" cy="972.5" r="9"/><circle cx="221.4" cy="984.4" r="9"/><circle cx="227.3" cy="982.7" r="9"/><circle cx="234" cy="982.5" r="9"/><circle cx="240.9" cy="981.8" r="9"/><circle cx="247.7" cy="978.4" r="9"/><circle cx="255.4" cy="975" r="9"/><circle cx="262.2" cy="978.4" r="9"/><circle cx="269" cy="984.4" r="9"/><circle cx="275.8" cy="986.9" r="9"/><circle cx="282.6" cy="996.3" r="9"/><circle cx="292.8" cy="982.7" r="9"/><circle cx="303" cy="982.7" r="9"/><circle cx="313.2" cy="994.6" r="9"/><circle cx="323.4" cy="984.4" r="9"/><circle cx="340.4" cy="996.3" r="9"/><circle cx="357.3" cy="985.2" r="9"/><circle cx="391.2" cy="981" r="9"/></g>
</g>
<rect x="120.65" y="623.3" width="442.05" height="404.7" fill="none" stroke="#000" stroke-width="4.4"/>
<path d="M187.4 623.3 v16.3 M187.4 1028 v-14.4 M255.8 623.3 v16.3 M255.8 1028 v-14.4 M324.4 623.3 v16.3 M324.4 1028 v-14.4 M392.9 623.3 v16.3 M392.9 1028 v-14.4 M460.1 623.3 v16.3 M460.1 1028 v-14.4 M527.8 623.3 v16.3 M527.8 1028 v-14.4 M153.3 623.3 v8.6 M153.3 1028 v-7.3 M221.6 623.3 v8.6 M221.6 1028 v-7.3 M290.3 623.3 v8.6 M290.3 1028 v-7.3 M358.4 623.3 v8.6 M358.4 1028 v-7.3 M425.6 623.3 v8.6 M425.6 1028 v-7.3 M494.1 623.3 v8.6 M494.1 1028 v-7.3 M120.65 996.7 h14.6 M562.7 996.7 h-16.3 M120.65 872.23 h14.6 M562.7 872.23 h-16.3 M120.65 747.76 h14.6 M562.7 747.76 h-16.3 M120.65 934.47 h6.8 M562.7 934.47 h-8.5 M120.65 810 h6.8 M562.7 810 h-8.5 M120.65 685.53 h6.8 M562.7 685.53 h-8.5" fill="none" stroke="#000" stroke-width="4.4"/>
<text transform="translate(118.7 1070.4) scale(0.94 1)" font-size="35.8" text-anchor="middle">60</text>
<text transform="translate(186.8 1070.4) scale(0.94 1)" font-size="35.8" text-anchor="middle">80</text>
<text transform="translate(255.2 1070.4) scale(0.94 1)" font-size="35.8" text-anchor="middle">100</text>
<text transform="translate(323.8 1070.4) scale(0.94 1)" font-size="35.8" text-anchor="middle">120</text>
<text transform="translate(392.3 1070.4) scale(0.94 1)" font-size="35.8" text-anchor="middle">140</text>
<text transform="translate(459.5 1070.4) scale(0.94 1)" font-size="35.8" text-anchor="middle">160</text>
<text transform="translate(527.2 1070.4) scale(0.94 1)" font-size="35.8" text-anchor="middle">180</text>
<text transform="translate(103 1007) scale(0.94 1)" font-size="35.8" text-anchor="end">0</text>
<text transform="translate(103 882.53) scale(0.94 1)" font-size="35.8" text-anchor="end">0.1</text>
<text transform="translate(103 758.06) scale(0.94 1)" font-size="35.8" text-anchor="end">0.2</text>
<text transform="translate(103 633.59) scale(0.94 1)" font-size="35.8" text-anchor="end">0.3</text>
<text transform="translate(342.2 1129.3) scale(0.962 1)" font-size="37.4" text-anchor="middle"><tspan font-style="italic">T</tspan> (K)</text>
<text transform="translate(39.4 824.5) rotate(-90) scale(0.97 1)" font-size="37.8" text-anchor="middle">RMCD (%)</text>
<path d="M379.7 658.7 L382.9 656.2 H438.8 L442 658.7 L438.8 661.2 H382.9 Z" fill="#515151"/>
<circle cx="409.8" cy="658.7" r="8.8" fill="#515151"/>
<text transform="translate(444.4 666.7) scale(0.89 1)" font-size="27.3" text-anchor="start">Untreated</text>
<path d="M379.7 688.8 L382.9 686.3 H438.8 L442 688.8 L438.8 691.3 H382.9 Z" fill="#F14040"/>
<circle cx="409.8" cy="688.8" r="8.8" fill="#F14040"/>
<text transform="translate(444.4 696.8) scale(0.89 1)" font-size="27.3" text-anchor="start">10 min</text>
<path d="M379.7 719 L382.9 716.5 H438.8 L442 719 L438.8 721.5 H382.9 Z" fill="#1A6FDF"/>
<circle cx="409.8" cy="719" r="8.8" fill="#1A6FDF"/>
<text transform="translate(444.4 727) scale(0.89 1)" font-size="27.3" text-anchor="start">20 min</text>
<path d="M379.7 749 L382.9 746.5 H438.8 L442 749 L438.8 751.5 H382.9 Z" fill="#37AD6B"/>
<circle cx="409.8" cy="749" r="8.8" fill="#37AD6B"/>
<text transform="translate(444.4 757) scale(0.89 1)" font-size="27.3" text-anchor="start">30 min</text>
<text x="474.8" y="871.4" font-size="32.7" text-anchor="start">4L</text>
<text x="1" y="594.7" font-size="39.3" text-anchor="start" font-weight="bold">c</text>
</g>
<g id="panel-d">
<path d="M706.9 970.3 H1149.4" stroke="#000" stroke-width="4.4" stroke-dasharray="23.2 21.4" fill="none"/>
<clipPath id="cp4"><rect x="707.4" y="623.3" width="442" height="404.5"/></clipPath>
<g clip-path="url(#cp4)">
<path d="M732.8 734.1 L732.81 734.09 L732.84 734.05 L732.94 733.94 L733.12 733.73 L733.43 733.37 L733.88 732.84 L734.52 732.1 L735.37 731.12 L736.44 729.87 L737.72 728.45 L739.17 726.93 L740.74 725.42 L742.41 724.01 L744.13 722.8 L745.87 721.88 L747.58 721.35 L749.25 721.27 L750.89 721.57 L752.53 722.14 L754.2 722.89 L755.93 723.71 L757.75 724.5 L759.68 725.16 L761.75 725.58 L763.99 725.69 L766.41 725.51 L769.01 725.09 L771.79 724.47 L774.74 723.72 L777.89 722.87 L781.22 721.98 L784.73 721.1 L788.43 720.28 L792.28 719.59 L796.22 719.1 L800.2 718.9 L804.19 719.04 L808.14 719.62 L811.99 720.71 L815.7 722.37 L819.23 724.65 L822.58 727.5 L825.73 730.81 L828.7 734.49 L831.49 738.44 L834.08 742.58 L836.49 746.8 L838.72 751.02 L840.76 755.16 L842.64 759.29 L844.39 763.5 L846.02 767.87 L847.57 772.48 L849.05 777.44 L850.5 782.82 L851.93 788.72 L853.38 795.18 L854.83 802.13 L856.29 809.46 L857.76 817.05 L859.22 824.8 L860.69 832.58 L862.16 840.29 L863.62 847.82 L865.07 855.07 L866.55 862.1 L868.06 868.97 L869.63 875.75 L871.29 882.51 L873.06 889.32 L874.97 896.26 L877.03 903.38 L879.27 910.73 L881.7 918.18 L884.3 925.58 L887.09 932.77 L890.06 939.59 L893.22 945.88 L896.56 951.49 L900.08 956.27 L903.78 960.08 L907.6 963 L911.47 965.11 L915.31 966.5 L919.06 967.28 L922.66 967.53 L926.03 967.35 L929.1 966.83 L931.82 966.07 L934.23 965.12 L936.36 964.02 L938.27 962.82 L940 961.58 L941.59 960.33 L943.1 959.13 L944.57 958.03 L946.03 957.06 L947.5 956.22 L948.97 955.49 L950.43 954.84 L951.89 954.26 L953.33 953.74 L954.77 953.25 L956.18 952.78 L957.58 952.31 L958.96 951.85 L960.33 951.4 L961.7 950.97 L963.07 950.56 L964.45 950.18 L965.83 949.84 L967.23 949.55 L968.66 949.31 L970.1 949.15 L971.55 949.08 L973.01 949.14 L974.48 949.34 L975.94 949.71 L977.4 950.27 L978.85 951.05 L980.29 952.05 L981.71 953.24 L983.13 954.54 L984.55 955.89 L985.96 957.25 L987.38 958.54 L988.8 959.71 L990.23 960.7 L991.68 961.46 L993.13 962 L994.6 962.35 L996.07 962.54 L997.54 962.59 L999.03 962.53 L1000.51 962.39 L1002 962.2 L1003.5 961.97 L1005.04 961.72 L1006.69 961.45 L1008.5 961.16 L1010.51 960.86 L1012.78 960.55 L1015.36 960.24 L1018.3 959.92 L1021.64 959.6 L1025.33 959.28 L1029.34 958.95 L1033.6 958.61 L1038.07 958.27 L1042.69 957.9 L1047.41 957.51 L1052.18 957.1 L1056.96 956.66 L1061.75 956.2 L1066.53 955.72 L1071.32 955.23 L1076.11 954.72 L1080.91 954.21 L1085.73 953.7 L1090.55 953.2 L1095.38 952.71 L1100.14 952.23 L1104.76 951.77 L1109.15 951.34 L1113.25 950.94 L1116.98 950.59 L1120.25 950.28 L1122.98 950.02 L1125.13 949.81 L1126.75 949.66 L1127.91 949.55 L1128.69 949.48 L1129.16 949.43 L1129.4 949.41 L1129.49 949.4 L1129.5 949.4" fill="none" stroke="#515151" stroke-width="5.3" stroke-linejoin="round" stroke-linecap="round"/>
<g fill="#515151"><circle cx="732.8" cy="734.1" r="9"/><circle cx="748.2" cy="716.2" r="9"/><circle cx="759.9" cy="729.2" r="9"/><circle cx="782.7" cy="720.5" r="9"/><circle cx="817.7" cy="715.4" r="9"/><circle cx="840.7" cy="752.1" r="9"/><circle cx="851.8" cy="782.3" r="9"/><circle cx="863.7" cy="851" r="9"/><circle cx="875.1" cy="900.6" r="9"/><circle cx="898.1" cy="966.9" r="9"/><circle cx="933" cy="969.4" r="9"/><circle cx="944.5" cy="956.5" r="9"/><circle cx="956.4" cy="952.8" r="9"/><circle cx="967" cy="949" r="9"/><circle cx="979" cy="948.5" r="9"/><circle cx="990.1" cy="963.3" r="9"/><circle cx="1002" cy="962.5" r="9"/><circle cx="1013.9" cy="959.9" r="9"/><circle cx="1052.2" cy="957.4" r="9"/><circle cx="1090.4" cy="953.1" r="9"/><circle cx="1129.5" cy="949.4" r="9"/></g>
<path d="M744.2 849.6 L744.2 849.6 L744.24 849.61 L744.33 849.64 L744.52 849.69 L744.82 849.78 L745.28 849.91 L745.91 850.09 L746.75 850.33 L747.82 850.64 L749.09 850.99 L750.53 851.37 L752.09 851.76 L753.75 852.13 L755.45 852.46 L757.18 852.74 L758.88 852.93 L760.54 853.04 L762.14 853.08 L763.7 853.11 L765.23 853.15 L766.72 853.24 L768.2 853.43 L769.66 853.74 L771.12 854.23 L772.57 854.92 L774.04 855.74 L775.52 856.65 L777.03 857.59 L778.57 858.47 L780.14 859.26 L781.76 859.87 L783.43 860.25 L785.16 860.37 L786.93 860.37 L788.73 860.39 L790.54 860.61 L792.35 861.19 L794.15 862.29 L795.91 864.08 L797.62 866.72 L799.27 870.31 L800.86 874.73 L802.4 879.77 L803.91 885.25 L805.37 890.97 L806.81 896.74 L808.23 902.36 L809.63 907.65 L811.03 912.45 L812.43 916.74 L813.85 920.57 L815.29 923.95 L816.77 926.92 L818.29 929.51 L819.86 931.74 L821.5 933.65 L823.21 935.26 L824.98 936.59 L826.78 937.65 L828.61 938.45 L830.45 939.01 L832.27 939.34 L834.07 939.45 L835.82 939.35 L837.5 939.08 L839.14 938.7 L840.72 938.33 L842.26 938.04 L843.77 937.94 L845.26 938.11 L846.73 938.66 L848.18 939.67 L849.64 941.2 L851.11 943.18 L852.61 945.5 L854.15 948.03 L855.75 950.66 L857.43 953.29 L859.19 955.79 L861.05 958.05 L863.02 959.98 L865.1 961.58 L867.27 962.87 L869.51 963.86 L871.81 964.58 L874.15 965.03 L876.53 965.25 L878.92 965.25 L881.33 965.05 L883.86 964.68 L886.61 964.17 L889.7 963.57 L893.25 962.9 L897.36 962.19 L902.14 961.48 L907.72 960.8 L914.16 960.19 L921.38 959.66 L929.29 959.24 L937.76 958.96 L946.68 958.83 L955.95 958.87 L965.44 959.11 L975.05 959.57 L984.68 960.25 L994.32 961.12 L1003.96 962.12 L1013.61 963.2 L1023.26 964.29 L1032.91 965.34 L1042.56 966.29 L1052.22 967.1 L1061.85 967.71 L1071.33 968.15 L1080.51 968.43 L1089.24 968.59 L1097.37 968.66 L1104.74 968.65 L1111.21 968.61 L1116.62 968.55 L1120.87 968.5 L1124.06 968.46 L1126.35 968.44 L1127.89 968.42 L1128.82 968.41 L1129.3 968.4 L1129.47 968.4 L1129.5 968.4" fill="none" stroke="#FB6501" stroke-width="5.3" stroke-linejoin="round" stroke-linecap="round"/>
<g fill="#FB6501"><circle cx="744.2" cy="849.6" r="9"/><circle cx="759.5" cy="854" r="9"/><circle cx="771.1" cy="852" r="9"/><circle cx="782.8" cy="863.4" r="9"/><circle cx="798.3" cy="855.9" r="9"/><circle cx="809.7" cy="913.3" r="9"/><circle cx="820.7" cy="936.8" r="9"/><circle cx="836.5" cy="941.4" r="9"/><circle cx="848.2" cy="933.7" r="9"/><circle cx="859.8" cy="961.8" r="9"/><circle cx="878.9" cy="967.4" r="9"/><circle cx="898.1" cy="960.1" r="9"/><circle cx="975" cy="957" r="9"/><circle cx="1052.2" cy="969.3" r="9"/><circle cx="1129.5" cy="968.4" r="9"/></g>
</g>
<rect x="707.4" y="623.3" width="442" height="404.5" fill="none" stroke="#000" stroke-width="4.4"/>
<path d="M744.5 623.3 v16.3 M744.5 1027.8 v-14.4 M822.6 623.3 v16.3 M822.6 1027.8 v-14.4 M898.9 623.3 v16.3 M898.9 1027.8 v-14.4 M976.5 623.3 v16.3 M976.5 1027.8 v-14.4 M1053 623.3 v16.3 M1053 1027.8 v-14.4 M1130.5 623.3 v16.3 M1130.5 1027.8 v-14.4 M783.5 623.3 v8.6 M783.5 1027.8 v-7.3 M860.5 623.3 v8.6 M860.5 1027.8 v-7.3 M937.4 623.3 v8.6 M937.4 1027.8 v-7.3 M1013.7 623.3 v8.6 M1013.7 1027.8 v-7.3 M1091.4 623.3 v8.6 M1091.4 1027.8 v-7.3 M707.4 970.3 h14.6 M1149.4 970.3 h-16.3 M707.4 739.8 h14.6 M1149.4 739.8 h-16.3 M707.4 855.05 h6.8 M1149.4 855.05 h-8.5" fill="none" stroke="#000" stroke-width="4.4"/>
<text transform="translate(743.9 1070.4) scale(0.94 1)" font-size="35.8" text-anchor="middle">80</text>
<text transform="translate(822 1070.4) scale(0.94 1)" font-size="35.8" text-anchor="middle">100</text>
<text transform="translate(898.3 1070.4) scale(0.94 1)" font-size="35.8" text-anchor="middle">120</text>
<text transform="translate(975.9 1070.4) scale(0.94 1)" font-size="35.8" text-anchor="middle">140</text>
<text transform="translate(1052.4 1070.4) scale(0.94 1)" font-size="35.8" text-anchor="middle">160</text>
<text transform="translate(1129.9 1070.4) scale(0.94 1)" font-size="35.8" text-anchor="middle">180</text>
<text transform="translate(689.6 979.3) scale(0.94 1)" font-size="35.8" text-anchor="end">0</text>
<text transform="translate(689.6 748.8) scale(0.94 1)" font-size="35.8" text-anchor="end">0.1</text>
<text transform="translate(928.2 1129.3) scale(0.962 1)" font-size="37.4" text-anchor="middle"><tspan font-style="italic">T</tspan> (K)</text>
<text transform="translate(626 824.5) rotate(-90) scale(0.97 1)" font-size="37.8" text-anchor="middle">RMCD (%)</text>
<path d="M966 661.2 L969.2 658.7 H1024.6 L1027.8 661.2 L1024.6 663.7 H969.2 Z" fill="#515151"/>
<circle cx="995.5" cy="661.2" r="8.8" fill="#515151"/>
<text transform="translate(1030.4 669.2) scale(0.89 1)" font-size="27.3" text-anchor="start">Untreated</text>
<path d="M966 691 L969.2 688.5 H1024.6 L1027.8 691 L1024.6 693.5 H969.2 Z" fill="#FB6501"/>
<circle cx="995.5" cy="691" r="8.8" fill="#FB6501"/>
<text transform="translate(1030.4 699) scale(0.89 1)" font-size="27.3" text-anchor="start">5 min</text>
<text x="1077.5" y="871.4" font-size="32.7" text-anchor="start">3L</text>
<text x="606.5" y="594" font-size="39" text-anchor="start" font-weight="bold">d</text>
</g>
<g id="panel-e">
<path d="M1315.1 703.6 L1366.3 840.8" fill="none" stroke="#515151" stroke-width="6" stroke-linejoin="round" stroke-linecap="round"/>
<g fill="#515151"><rect x="1301.2" y="689.7" width="27.8" height="27.8"/><rect x="1352.4" y="826.9" width="27.8" height="27.8"/></g>
<path d="M1315.1 446.9 L1315.1 446.91 L1315.14 446.98 L1315.22 447.15 L1315.39 447.5 L1315.67 448.08 L1316.08 448.93 L1316.65 450.13 L1317.42 451.72 L1318.39 453.74 L1319.56 456.19 L1320.91 459.01 L1322.42 462.19 L1324.07 465.67 L1325.84 469.44 L1327.7 473.45 L1329.65 477.67 L1331.66 482.07 L1333.74 486.65 L1335.87 491.41 L1338.08 496.36 L1340.34 501.51 L1342.68 506.85 L1345.08 512.39 L1347.55 518.13 L1350.09 524.08 L1352.68 530.18 L1355.31 536.37 L1357.95 542.6 L1360.6 548.82 L1363.23 554.96 L1365.82 560.96 L1368.37 566.78 L1370.85 572.37 L1373.26 577.72 L1375.63 582.86 L1377.94 587.79 L1380.21 592.52 L1382.45 597.08 L1384.66 601.47 L1386.85 605.7 L1389.02 609.79 L1391.17 613.74 L1393.29 617.55 L1395.38 621.22 L1397.41 624.75 L1399.4 628.13 L1401.32 631.37 L1403.17 634.47 L1404.94 637.42 L1406.65 640.23 L1408.31 642.9 L1409.94 645.43 L1411.54 647.83 L1413.13 650.09 L1414.72 652.21 L1416.33 654.2 L1417.97 656.06 L1419.63 657.8 L1421.3 659.43 L1422.97 660.95 L1424.62 662.39 L1426.25 663.74 L1427.85 665.02 L1429.4 666.23 L1430.9 667.39 L1432.37 668.5 L1433.82 669.56 L1435.28 670.56 L1436.77 671.51 L1438.32 672.41 L1439.94 673.26 L1441.65 674.05 L1443.47 674.79 L1445.4 675.49 L1447.42 676.13 L1449.5 676.72 L1451.65 677.27 L1453.84 677.76 L1456.05 678.21 L1458.28 678.62 L1460.51 678.98 L1462.74 679.3 L1464.97 679.6 L1467.2 679.89 L1469.42 680.17 L1471.65 680.46 L1473.87 680.77 L1476.1 681.1 L1478.32 681.47 L1480.53 681.87 L1482.7 682.3 L1484.83 682.76 L1486.89 683.24 L1488.87 683.73 L1490.76 684.25 L1492.53 684.77 L1494.19 685.3 L1495.73 685.85 L1497.2 686.43 L1498.62 687.05 L1500 687.73 L1501.38 688.49 L1502.78 689.32 L1504.22 690.25 L1505.72 691.28 L1507.28 692.42 L1508.89 693.63 L1510.54 694.93 L1512.23 696.3 L1513.94 697.73 L1515.68 699.2 L1517.42 700.72 L1519.16 702.26 L1520.91 703.85 L1522.67 705.49 L1524.44 707.18 L1526.23 708.95 L1528.04 710.79 L1529.87 712.72 L1531.73 714.75 L1533.63 716.89 L1535.56 719.17 L1537.54 721.61 L1539.57 724.26 L1541.67 727.13 L1543.85 730.25 L1546.1 733.67 L1548.45 737.4 L1550.89 741.47 L1553.42 745.83 L1556.02 750.44 L1558.68 755.24 L1561.39 760.2 L1564.14 765.25 L1566.91 770.35 L1569.7 775.45 L1572.49 780.5 L1575.26 785.49 L1578.02 790.41 L1580.76 795.25 L1583.45 799.98 L1586.11 804.62 L1588.71 809.13 L1591.25 813.52 L1593.72 817.76 L1596.11 821.86 L1598.41 825.78 L1600.62 829.53 L1602.72 833.08 L1604.71 836.43 L1606.57 839.55 L1608.3 842.43 L1609.89 845.07 L1611.34 847.46 L1612.66 849.61 L1613.83 851.52 L1614.86 853.2 L1615.76 854.64 L1616.51 855.86 L1617.13 856.85 L1617.62 857.63 L1617.98 858.21 L1618.24 858.63 L1618.42 858.91 L1618.52 859.08 L1618.58 859.16 L1618.6 859.2 L1618.6 859.2" fill="none" stroke="#F14040" stroke-width="6" stroke-linejoin="round" stroke-linecap="round"/>
<g fill="#F14040"><rect x="1301.2" y="433" width="27.8" height="27.8"/><rect x="1402.1" y="641.7" width="27.8" height="27.8"/><rect x="1503.5" y="686.5" width="27.8" height="27.8"/><rect x="1604.7" y="845.3" width="27.8" height="27.8"/></g>
<path d="M1315.1 468.5 L1315.1 468.5 L1315.14 468.5 L1315.22 468.51 L1315.39 468.52 L1315.67 468.54 L1316.08 468.57 L1316.65 468.61 L1317.42 468.67 L1318.4 468.74 L1319.62 468.83 L1321.11 468.95 L1322.89 469.11 L1324.98 469.3 L1327.4 469.54 L1330.19 469.83 L1333.37 470.18 L1336.93 470.59 L1340.84 471.06 L1345.03 471.56 L1349.41 472.1 L1353.93 472.65 L1358.52 473.22 L1363.1 473.77 L1367.62 474.32 L1372 474.83 L1376.23 475.32 L1380.3 475.77 L1384.19 476.19 L1387.89 476.56 L1391.39 476.88 L1394.67 477.15 L1397.72 477.37 L1400.53 477.53 L1403.13 477.63 L1405.54 477.69 L1407.79 477.7 L1409.91 477.68 L1411.92 477.63 L1413.84 477.56 L1415.72 477.47 L1417.56 477.36 L1419.42 477.22 L1421.31 477.04 L1423.26 476.81 L1425.32 476.5 L1427.5 476.11 L1429.85 475.61 L1432.38 475 L1435.13 474.26 L1438.06 473.42 L1441.14 472.49 L1444.32 471.5 L1447.56 470.47 L1450.83 469.43 L1454.09 468.4 L1457.28 467.4 L1460.39 466.45 L1463.4 465.57 L1466.3 464.74 L1469.09 463.98 L1471.76 463.28 L1474.32 462.65 L1476.74 462.1 L1479.03 461.62 L1481.19 461.21 L1483.22 460.88 L1485.13 460.61 L1486.94 460.41 L1488.64 460.27 L1490.26 460.18 L1491.8 460.14 L1493.27 460.15 L1494.68 460.2 L1496.04 460.29 L1497.38 460.42 L1498.71 460.59 L1500.04 460.79 L1501.39 461.02 L1502.78 461.28 L1504.22 461.57 L1505.72 461.88 L1507.28 462.22 L1508.89 462.58 L1510.54 462.96 L1512.23 463.37 L1513.94 463.8 L1515.68 464.26 L1517.42 464.73 L1519.16 465.23 L1520.91 465.77 L1522.67 466.36 L1524.44 467.01 L1526.23 467.74 L1528.04 468.57 L1529.87 469.5 L1531.73 470.55 L1533.63 471.74 L1535.56 473.07 L1537.54 474.54 L1539.57 476.17 L1541.67 477.95 L1543.85 479.89 L1546.1 482 L1548.45 484.28 L1550.89 486.74 L1553.42 489.35 L1556.02 492.09 L1558.68 494.96 L1561.39 497.92 L1564.14 500.95 L1566.91 504.04 L1569.7 507.17 L1572.48 510.31 L1575.25 513.44 L1577.98 516.54 L1580.65 519.59 L1583.25 522.56 L1585.75 525.42 L1588.14 528.16 L1590.4 530.75 L1592.52 533.17 L1594.5 535.44 L1596.38 537.58 L1598.18 539.6 L1599.9 541.52 L1601.58 543.37 L1603.24 545.16 L1604.9 546.92 L1606.57 548.65 L1608.22 550.34 L1609.84 551.96 L1611.39 553.5 L1612.83 554.92 L1614.15 556.2 L1615.31 557.33 L1616.28 558.27 L1617.05 559 L1617.62 559.56 L1618.03 559.95 L1618.31 560.22 L1618.48 560.38 L1618.56 560.47 L1618.6 560.5 L1618.6 560.5" fill="none" stroke="#1A6FDF" stroke-width="6" stroke-linejoin="round" stroke-linecap="round"/>
<g fill="#1A6FDF"><rect x="1301.2" y="454.6" width="27.8" height="27.8"/><rect x="1402.1" y="462.9" width="27.8" height="27.8"/><rect x="1503.5" y="450.1" width="27.8" height="27.8"/><rect x="1604.7" y="546.6" width="27.8" height="27.8"/></g>
<path d="M1315.1 216.9 L1618.6 224.5" fill="none" stroke="#37AD6B" stroke-width="6" stroke-linejoin="round" stroke-linecap="round"/>
<g fill="#37AD6B"><rect x="1301.2" y="203" width="27.8" height="27.8"/><rect x="1604.7" y="210.6" width="27.8" height="27.8"/></g>
<g id="inset">
<clipPath id="insclip"><rect x="1320.05" y="893.04" width="110.04" height="110.74"/></clipPath>
<g clip-path="url(#insclip)">
<rect x="1320.05" y="893.04" width="110.04" height="110.74" fill="#F58229"/>
<path d="M1396.58 893.74 L1395.24 894.66 L1393.27 896.02 L1390.99 897.58 L1388.72 899.14 L1386.75 900.5 L1385.41 901.42 L1385.41 901.42 L1385.78 902.84 L1386.24 904.78 L1386.8 907.09 L1387.53 909.62 L1388.45 912.2 L1389.6 914.69 L1391.01 917.29 L1392.65 920.17 L1394.49 923.11 L1396.48 925.88 L1398.58 928.27 L1400.77 930.05 L1403.09 931.1 L1405.58 931.6 L1408.19 931.71 L1410.85 931.6 L1413.52 931.45 L1416.13 931.44 L1418.87 931.52 L1421.82 931.55 L1424.77 931.53 L1427.51 931.5 L1429.82 931.46 L1431.49 931.44 L1431.49 931.44 L1431.49 892.34 L1396.58 892.34 Z" fill="#0E9FE8"/>
<path d="M1363.07 927.25 L1363.76 926.24 L1364.67 924.88 L1365.77 923.24 L1367.05 921.41 L1368.48 919.46 L1370.05 917.48 L1371.96 915.23 L1374.29 912.62 L1376.77 909.89 L1379.15 907.29 L1381.18 905.08 L1382.62 903.51 L1385.41 901.42 L1385.78 902.84 L1386.24 904.78 L1386.8 907.09 L1387.53 909.62 L1388.45 912.2 L1389.6 914.69 L1391.17 917.27 L1393.17 920.12 L1395.36 923.02 L1397.51 925.78 L1399.39 928.19 L1400.77 930.05 L1401.58 931.27 L1402.01 932.01 L1402.17 932.4 L1402.17 932.58 L1402.13 932.68 L1402.17 932.84 L1402.17 932.84 L1401.25 934.61 L1399.99 937.13 L1398.5 940.08 L1396.89 943.13 L1395.28 945.95 L1393.79 948.2 L1392.29 949.93 L1390.68 951.41 L1389.07 952.65 L1387.58 953.68 L1386.32 954.52 L1385.41 955.18 L1385.41 955.18 L1383.64 953.85 L1381.12 952.03 L1378.16 949.86 L1375.12 947.48 L1372.3 945.02 L1370.05 942.62 L1368.32 940.04 L1366.84 937.13 L1365.6 934.15 L1364.57 931.34 L1363.73 928.96 L1363.07 927.25 Z" fill="#0E9FE8"/>
<path d="M1318.38 929.35 L1342.12 929.35 L1349.1 928.65 L1349.1 928.65 L1349.38 930.15 L1349.8 932.22 L1350.28 934.67 L1350.73 937.34 L1351.06 940.05 L1351.2 942.62 L1351.06 945.27 L1350.73 948.2 L1350.28 951.17 L1349.8 953.94 L1349.38 956.29 L1349.1 957.98 L1349.1 959.37 L1330.95 957.98 L1318.38 961.47 Z" fill="#0E9FE8"/>
<path d="M1360.27 967.75 L1361.46 967.16 L1363.07 966.36 L1364.99 965.4 L1367.1 964.34 L1369.29 963.24 L1371.44 962.17 L1373.77 961 L1376.41 959.68 L1379.12 958.33 L1381.68 957.05 L1383.86 955.96 L1385.41 955.18 L1385.41 955.18 L1387.78 956.49 L1391.15 958.38 L1395.1 960.58 L1399.22 962.82 L1403.11 964.83 L1406.36 966.36 L1408.93 967.37 L1411.17 968.1 L1413.16 968.61 L1415.04 968.95 L1416.93 969.2 L1418.92 969.43 L1421.16 969.57 L1423.58 969.57 L1425.99 969.48 L1428.23 969.34 L1430.12 969.22 L1431.49 969.15 L1431.49 1004.06 L1379.82 1004.06 L1379.82 1004.06 L1378.78 1001.53 L1377.34 997.96 L1375.63 993.76 L1373.77 989.37 L1371.87 985.21 L1370.05 981.72 L1368.14 978.74 L1366.01 975.92 L1363.85 973.34 L1361.82 971.06 L1360.11 969.17 L1358.88 967.75 Z" fill="#0E9FE8"/>
<path d="M1318.38 929.35 L1321.06 929.37 L1324.84 929.43 L1329.29 929.48 L1333.95 929.5 L1338.37 929.47 L1342.12 929.35 L1345.2 929.21 L1347.96 929.09 L1350.5 928.91 L1352.88 928.6 L1355.18 928.07 L1357.48 927.25 L1359.74 926.12 L1361.88 924.72 L1363.94 923.11 L1365.96 921.33 L1367.99 919.44 L1370.05 917.48 L1372.13 915.35 L1374.19 912.98 L1376.24 910.5 L1378.32 908.01 L1380.44 905.65 L1382.62 903.51 L1385.02 901.53 L1387.68 899.58 L1390.38 897.75 L1392.91 896.12 L1395.04 894.75 L1396.58 893.74" fill="none" stroke="#fff" stroke-width="3.3" stroke-linecap="round"/>
<path d="M1385.41 901.42 L1385.78 902.84 L1386.24 904.78 L1386.8 907.09 L1387.53 909.62 L1388.45 912.2 L1389.6 914.69 L1391.01 917.29 L1392.65 920.17 L1394.49 923.11 L1396.48 925.88 L1398.58 928.27 L1400.77 930.05 L1403.09 931.1 L1405.58 931.6 L1408.19 931.71 L1410.85 931.6 L1413.52 931.45 L1416.13 931.44 L1418.87 931.52 L1421.82 931.55 L1424.77 931.53 L1427.51 931.5 L1429.82 931.46 L1431.49 931.44" fill="none" stroke="#fff" stroke-width="3.3" stroke-linecap="round"/>
<path d="M1363.07 927.25 L1363.73 928.96 L1364.57 931.34 L1365.6 934.15 L1366.84 937.13 L1368.32 940.04 L1370.05 942.62 L1372.06 944.89 L1374.34 947.06 L1376.86 949.16 L1379.56 951.2 L1382.43 953.2 L1385.41 955.18 L1388.67 957.22 L1392.29 959.31 L1396.06 961.36 L1399.79 963.28 L1403.28 964.98 L1406.36 966.36 L1408.93 967.37 L1411.17 968.1 L1413.16 968.61 L1415.04 968.95 L1416.93 969.2 L1418.92 969.43 L1421.16 969.57 L1423.58 969.57 L1425.99 969.48 L1428.23 969.34 L1430.12 969.22 L1431.49 969.15" fill="none" stroke="#fff" stroke-width="3.3" stroke-linecap="round"/>
<path d="M1402.17 932.84 L1401.25 934.61 L1399.99 937.13 L1398.5 940.08 L1396.89 943.13 L1395.28 945.95 L1393.79 948.2 L1392.46 949.85 L1391.2 951.15 L1389.95 952.22 L1388.62 953.17 L1387.13 954.12 L1385.41 955.18 L1383.37 956.36 L1381.06 957.56 L1378.6 958.76 L1376.1 959.94 L1373.67 961.08 L1371.44 962.17 L1369.29 963.24 L1367.1 964.34 L1364.99 965.4 L1363.07 966.36 L1361.46 967.16 L1360.27 967.75" fill="none" stroke="#fff" stroke-width="3.3" stroke-linecap="round"/>
<path d="M1318.38 961.47 L1319.68 961.03 L1321.43 960.38 L1323.53 959.63 L1325.88 958.91 L1328.38 958.32 L1330.95 957.98 L1333.75 957.85 L1336.89 957.82 L1340.2 957.93 L1343.46 958.21 L1346.5 958.68 L1349.1 959.37 L1351.2 960.3 L1352.93 961.44 L1354.42 962.78 L1355.82 964.29 L1357.26 965.95 L1358.88 967.75 L1360.67 969.66 L1362.55 971.68 L1364.46 973.86 L1366.38 976.23 L1368.25 978.84 L1370.05 981.72 L1371.87 985.21 L1373.77 989.37 L1375.63 993.76 L1377.34 997.96 L1378.78 1001.53 L1379.82 1004.06" fill="none" stroke="#fff" stroke-width="3.3" stroke-linecap="round"/>
<path d="M1349.1 928.65 L1349.38 930.15 L1349.8 932.22 L1350.28 934.67 L1350.73 937.34 L1351.06 940.05 L1351.2 942.62 L1351.06 945.27 L1350.73 948.2 L1350.28 951.17 L1349.8 953.94 L1349.38 956.29 L1349.1 957.98" fill="none" stroke="#fff" stroke-width="3.3" stroke-linecap="round"/>
<circle cx="1374.24" cy="947.5" r="37.42" fill="none" stroke="#fff" stroke-width="3.6"/>
<path d="M1320.05 895.42 H1430.09" stroke="#fff" stroke-width="2.2"/>
<path d="M1318.38 929.35 L1321.06 929.37 L1324.84 929.43 L1329.29 929.48 L1333.95 929.5 L1338.37 929.47 L1342.12 929.35 L1345.2 929.21 L1347.96 929.09 L1350.5 928.91 L1352.88 928.6 L1355.18 928.07 L1357.48 927.25 L1359.74 926.12 L1361.88 924.72 L1363.94 923.11 L1365.96 921.33 L1367.99 919.44 L1370.05 917.48 L1372.13 915.35 L1374.19 912.98 L1376.24 910.5 L1378.32 908.01 L1380.44 905.65 L1382.62 903.51 L1385.02 901.53 L1387.68 899.58 L1390.38 897.75 L1392.91 896.12 L1395.04 894.75 L1396.58 893.74" fill="none" stroke="#000" stroke-width="2.0" stroke-linecap="round"/>
<path d="M1385.41 901.42 L1385.78 902.84 L1386.24 904.78 L1386.8 907.09 L1387.53 909.62 L1388.45 912.2 L1389.6 914.69 L1391.01 917.29 L1392.65 920.17 L1394.49 923.11 L1396.48 925.88 L1398.58 928.27 L1400.77 930.05 L1403.09 931.1 L1405.58 931.6 L1408.19 931.71 L1410.85 931.6 L1413.52 931.45 L1416.13 931.44 L1418.87 931.52 L1421.82 931.55 L1424.77 931.53 L1427.51 931.5 L1429.82 931.46 L1431.49 931.44" fill="none" stroke="#000" stroke-width="2.0" stroke-linecap="round"/>
<path d="M1363.07 927.25 L1363.73 928.96 L1364.57 931.34 L1365.6 934.15 L1366.84 937.13 L1368.32 940.04 L1370.05 942.62 L1372.06 944.89 L1374.34 947.06 L1376.86 949.16 L1379.56 951.2 L1382.43 953.2 L1385.41 955.18 L1388.67 957.22 L1392.29 959.31 L1396.06 961.36 L1399.79 963.28 L1403.28 964.98 L1406.36 966.36 L1408.93 967.37 L1411.17 968.1 L1413.16 968.61 L1415.04 968.95 L1416.93 969.2 L1418.92 969.43 L1421.16 969.57 L1423.58 969.57 L1425.99 969.48 L1428.23 969.34 L1430.12 969.22 L1431.49 969.15" fill="none" stroke="#000" stroke-width="2.0" stroke-linecap="round"/>
<path d="M1402.17 932.84 L1401.25 934.61 L1399.99 937.13 L1398.5 940.08 L1396.89 943.13 L1395.28 945.95 L1393.79 948.2 L1392.46 949.85 L1391.2 951.15 L1389.95 952.22 L1388.62 953.17 L1387.13 954.12 L1385.41 955.18 L1383.37 956.36 L1381.06 957.56 L1378.6 958.76 L1376.1 959.94 L1373.67 961.08 L1371.44 962.17 L1369.29 963.24 L1367.1 964.34 L1364.99 965.4 L1363.07 966.36 L1361.46 967.16 L1360.27 967.75" fill="none" stroke="#000" stroke-width="2.0" stroke-linecap="round"/>
<path d="M1318.38 961.47 L1319.68 961.03 L1321.43 960.38 L1323.53 959.63 L1325.88 958.91 L1328.38 958.32 L1330.95 957.98 L1333.75 957.85 L1336.89 957.82 L1340.2 957.93 L1343.46 958.21 L1346.5 958.68 L1349.1 959.37 L1351.2 960.3 L1352.93 961.44 L1354.42 962.78 L1355.82 964.29 L1357.26 965.95 L1358.88 967.75 L1360.67 969.66 L1362.55 971.68 L1364.46 973.86 L1366.38 976.23 L1368.25 978.84 L1370.05 981.72 L1371.87 985.21 L1373.77 989.37 L1375.63 993.76 L1377.34 997.96 L1378.78 1001.53 L1379.82 1004.06" fill="none" stroke="#000" stroke-width="2.0" stroke-linecap="round"/>
<path d="M1349.1 928.65 L1349.38 930.15 L1349.8 932.22 L1350.28 934.67 L1350.73 937.34 L1351.06 940.05 L1351.2 942.62 L1351.06 945.27 L1350.73 948.2 L1350.28 951.17 L1349.8 953.94 L1349.38 956.29 L1349.1 957.98" fill="none" stroke="#000" stroke-width="2.0" stroke-linecap="round"/>
<circle cx="1374.24" cy="947.5" r="37.42" fill="none" stroke="#000" stroke-width="1.8" stroke-dasharray="6.5 3"/>
<circle cx="1337.23" cy="906.59" r="2" fill="#F5141B"/>
<circle cx="1409.85" cy="912.17" r="2" fill="#F5141B"/>
<circle cx="1379.4" cy="930.05" r="2" fill="#F5141B"/>
<circle cx="1357.76" cy="954.07" r="2" fill="#F5141B"/>
<circle cx="1338.35" cy="987.3" r="2" fill="#F5141B"/>
<circle cx="1405.38" cy="984.23" r="2" fill="#F5141B"/>
</g>
<rect x="1319.91" y="892.9" width="110.32" height="111.02" fill="none" stroke="#000" stroke-width="2.4"/>
<path d="M1453.83 948.2 L1431.49 931.44 L1421.72 922.79" fill="none" stroke="#000" stroke-width="1.3"/>
<path d="M1414.45 916.5 L1427.3 919.16 L1420.6 927.53 Z" fill="#000"/>
<path d="M1452.44 994.28 L1431.49 983.11 L1416.13 977.53" fill="none" stroke="#000" stroke-width="1.3"/>
<path d="M1406.36 972.64 L1419.2 973.62 L1414.04 982.55 Z" fill="#000"/>
<rect x="1438.19" y="896.81" width="12" height="10.3" fill="#F58229"/>
<rect x="1438.19" y="915.52" width="12" height="10.4" fill="#0E9FE8"/>
<text x="1453.83" y="905.61" font-size="15" textLength="53.76" lengthAdjust="spacingAndGlyphs" fill="#111" stroke="#111" stroke-width="0.3">Spin up</text>
<text x="1453.83" y="924.18" font-size="15" textLength="74.71" lengthAdjust="spacingAndGlyphs" fill="#111" stroke="#111" stroke-width="0.3">Spin down</text>
<text x="1453.14" y="952.39" font-size="15" textLength="50.97" lengthAdjust="spacingAndGlyphs" fill="#111" stroke="#111" stroke-width="0.3">O atom</text>
<text x="1452.44" y="1000.57" font-size="15" textLength="74.71" lengthAdjust="spacingAndGlyphs" fill="#111" stroke="#111" stroke-width="0.3">Laser spot</text>
<text x="1330.25" y="885.08" font-size="15" textLength="89.37" lengthAdjust="spacingAndGlyphs" fill="#111" stroke="#111" stroke-width="0.3">Domain map</text>
<text x="1332.34" y="1022.91" font-size="15" textLength="85.88" lengthAdjust="spacingAndGlyphs" fill="#111" stroke="#111" stroke-width="0.3">Thin sample</text>
</g>
<rect x="1291" y="57.2" width="353.3" height="984.7" fill="none" stroke="#000" stroke-width="4.9"/>
<path d="M1315.9 57.2 v12.6 M1315.9 1041.9 v-13.4 M1366.5 57.2 v12.6 M1366.5 1041.9 v-13.4 M1417.1 57.2 v12.6 M1417.1 1041.9 v-13.4 M1467.7 57.2 v12.6 M1467.7 1041.9 v-13.4 M1518.3 57.2 v12.6 M1518.3 1041.9 v-13.4 M1568.9 57.2 v12.6 M1568.9 1041.9 v-13.4 M1619.5 57.2 v12.6 M1619.5 1041.9 v-13.4 M1291 960 h12.8 M1644.3 960 h-12.7 M1291 795.6 h12.8 M1644.3 795.6 h-12.7 M1291 631.2 h12.8 M1644.3 631.2 h-12.7 M1291 466.8 h12.8 M1644.3 466.8 h-12.7 M1291 302.4 h12.8 M1644.3 302.4 h-12.7 M1291 138 h12.8 M1644.3 138 h-12.7 M1291 877.8 h7.1 M1644.3 877.8 h-7.1 M1291 713.4 h7.1 M1644.3 713.4 h-7.1 M1291 549 h7.1 M1644.3 549 h-7.1 M1291 384.6 h7.1 M1644.3 384.6 h-7.1 M1291 220.2 h7.1 M1644.3 220.2 h-7.1" fill="none" stroke="#000" stroke-width="4.8"/>
<text transform="translate(1315.9 1085.4) scale(0.88 1)" font-size="39.7" text-anchor="middle">0</text>
<text transform="translate(1366.5 1085.4) scale(0.88 1)" font-size="39.7" text-anchor="middle">5</text>
<text transform="translate(1417.1 1085.4) scale(0.88 1)" font-size="39.7" text-anchor="middle">10</text>
<text transform="translate(1467.7 1085.4) scale(0.88 1)" font-size="39.7" text-anchor="middle">15</text>
<text transform="translate(1518.3 1085.4) scale(0.88 1)" font-size="39.7" text-anchor="middle">20</text>
<text transform="translate(1568.9 1085.4) scale(0.88 1)" font-size="39.7" text-anchor="middle">25</text>
<text transform="translate(1619.5 1085.4) scale(0.88 1)" font-size="39.7" text-anchor="middle">30</text>
<text transform="translate(1278.6 973.4) scale(0.885 1)" font-size="39.7" text-anchor="end">0</text>
<text transform="translate(1278.6 809) scale(0.885 1)" font-size="39.7" text-anchor="end">20</text>
<text transform="translate(1278.6 644.6) scale(0.885 1)" font-size="39.7" text-anchor="end">40</text>
<text transform="translate(1278.6 480.2) scale(0.885 1)" font-size="39.7" text-anchor="end">60</text>
<text transform="translate(1278.6 315.8) scale(0.885 1)" font-size="39.7" text-anchor="end">80</text>
<text transform="translate(1278.6 151.4) scale(0.885 1)" font-size="39.7" text-anchor="end">100</text>
<text x="1464.2" y="1140.6" font-size="36" text-anchor="middle">Time (minutes)</text>
<text transform="translate(1212.7 512.2) rotate(-90) scale(0.94 1)" font-size="39.3" text-anchor="middle"><tspan font-style="italic">M</tspan><tspan font-size="24" dy="7.3">ZFC</tspan><tspan dy="-7.3">/</tspan><tspan font-style="italic">M</tspan><tspan font-size="24" dy="7.3">S</tspan><tspan dy="-7.3"> (%)</tspan></text>
<path d="M1528.5 97.8 H1582.7" stroke="#515151" stroke-width="5.6" fill="none"/>
<rect x="1544.1" y="85.9" width="24.8" height="23.8" fill="#515151"/>
<text transform="translate(1590.3 109.7) scale(0.96 1)" font-size="27.3" text-anchor="start">3L</text>
<path d="M1528.5 127.9 H1582.7" stroke="#F14040" stroke-width="5.6" fill="none"/>
<rect x="1544.1" y="116" width="24.8" height="23.8" fill="#F14040"/>
<text transform="translate(1590.3 139.4) scale(0.96 1)" font-size="27.3" text-anchor="start">4L</text>
<path d="M1528.5 157.5 H1582.7" stroke="#1A6FDF" stroke-width="5.6" fill="none"/>
<rect x="1544.1" y="145.6" width="24.8" height="23.8" fill="#1A6FDF"/>
<text transform="translate(1590.3 170.2) scale(0.96 1)" font-size="27.3" text-anchor="start">8L</text>
<path d="M1528.5 187.9 H1582.7" stroke="#37AD6B" stroke-width="5.6" fill="none"/>
<rect x="1544.1" y="176" width="24.8" height="23.8" fill="#37AD6B"/>
<text transform="translate(1590.3 199.8) scale(0.96 1)" font-size="27.3" text-anchor="start">Bulk</text>
<text x="1193.9" y="28.1" font-size="38.5" text-anchor="start" font-weight="bold">e</text>
</g>
</svg>
</body>
</html>
